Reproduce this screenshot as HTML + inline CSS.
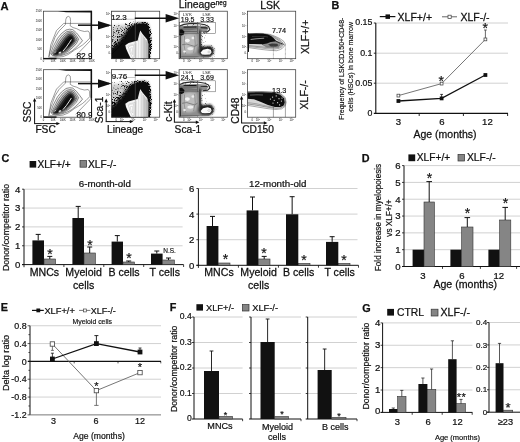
<!DOCTYPE html>
<html lang="en">
<head>
<meta charset="utf-8">
<title>XLF figure</title>
<style>
html,body{margin:0;padding:0;background:#fff;}
body{width:520px;height:442px;overflow:hidden;}
svg{display:block;font-family:"Liberation Sans",sans-serif;}
svg text{fill:#111;}
svg{-webkit-font-smoothing:antialiased;filter:grayscale(1) blur(0.3px);}
</style>
</head>
<body>
<svg width="520" height="442" viewBox="0 0 520 442">
<defs>
<filter id="b1" x="-20%" y="-20%" width="140%" height="140%"><feGaussianBlur stdDeviation="0.9"/></filter>
<filter id="b2" x="-20%" y="-20%" width="140%" height="140%"><feGaussianBlur stdDeviation="1.6"/></filter>
<filter id="b3" x="-30%" y="-30%" width="160%" height="160%"><feGaussianBlur stdDeviation="2.6"/></filter>
<filter id="b0" x="-20%" y="-20%" width="140%" height="140%"><feGaussianBlur stdDeviation="0.45"/></filter>
<filter id="spk" x="-10%" y="-10%" width="120%" height="120%" color-interpolation-filters="sRGB">
<feGaussianBlur in="SourceGraphic" stdDeviation="1.1" result="s"/>
<feTurbulence type="fractalNoise" baseFrequency="1.25" numOctaves="2" seed="7" result="n"/>
<feComposite in="s" in2="n" operator="arithmetic" k1="1" k2="0" k3="0" k4="0" result="m"/>
<feColorMatrix in="m" type="matrix" values="0 0 0 0 0.04  0 0 0 0 0.04  0 0 0 0 0.04  0 0 0 8 -2.5" result="t"/>
<feGaussianBlur in="t" stdDeviation="0.35"/>
</filter>
<linearGradient id="g2" gradientUnits="userSpaceOnUse" x1="111" y1="24" x2="128" y2="45">
<stop offset="0" stop-color="#000" stop-opacity="0.47"/><stop offset="0.5" stop-color="#000" stop-opacity="0.62"/><stop offset="1" stop-color="#000" stop-opacity="0.95"/>
</linearGradient>
</defs>
<rect width="520" height="442" fill="#fff"/>
<g id="panelA">
<text x="0.6" y="9.7" font-size="11.2" font-weight="bold" stroke="#111" stroke-width="0.25">A</text>
<text x="178.8" y="8.4" font-size="10.4" stroke="#111" stroke-width="0.25">Lineage<tspan font-size="6.4" dy="-3.6">neg</tspan></text>
<text x="270.2" y="8.9" font-size="10.5" text-anchor="middle" stroke="#111" stroke-width="0.252">LSK</text>
<text x="308.6" y="36.8" font-size="10.5" text-anchor="middle" transform="rotate(-90 308.6 36.8)" stroke="#111" stroke-width="0.252">XLF+/+</text>
<text x="308.2" y="94.8" font-size="10.5" text-anchor="middle" transform="rotate(-90 308.2 94.8)" stroke="#111" stroke-width="0.252">XLF-/-</text>
<g transform="translate(0 0)">
<text x="41.9" y="12.1" font-size="2.6" text-anchor="end" fill="#8a8a8a">250K</text>
<text x="41.9" y="21.599999999999998" font-size="2.6" text-anchor="end" fill="#8a8a8a">200K</text>
<text x="41.9" y="31.099999999999998" font-size="2.6" text-anchor="end" fill="#8a8a8a">150K</text>
<text x="41.9" y="40.6" font-size="2.6" text-anchor="end" fill="#8a8a8a">100K</text>
<text x="41.9" y="50.1" font-size="2.6" text-anchor="end" fill="#8a8a8a">50K</text>
<text x="41.9" y="59.6" font-size="2.6" text-anchor="end" fill="#8a8a8a">0</text>
<text x="43.5" y="62.1" font-size="2.6" text-anchor="middle" fill="#8a8a8a">0</text>
<text x="53.14" y="62.1" font-size="2.6" text-anchor="middle" fill="#8a8a8a">50K</text>
<text x="62.78" y="62.1" font-size="2.6" text-anchor="middle" fill="#8a8a8a">100K</text>
<text x="72.42" y="62.1" font-size="2.6" text-anchor="middle" fill="#8a8a8a">150K</text>
<text x="82.06" y="62.1" font-size="2.6" text-anchor="middle" fill="#8a8a8a">200K</text>
<text x="91.7" y="62.1" font-size="2.6" text-anchor="middle" fill="#8a8a8a">250K</text>
<path d="M49.3 56.4 L50.7 45 L56.5 30.6 L63.7 23.4 L91 23.4 M91 40 L75.7 55.8" fill="none" stroke="#3a3a3a" stroke-width="0.5"/>
<path d="M48.6 57.2 L49.6 52 L52.6 44 L55 37.4 L59 31 L63 27 L65.4 24.6 L65.8 19.4 L66.8 17 L68.6 16.4 L70.2 17.6 L70.6 21.6 L70.2 25.8 L73 27.6 L76.7 28.7 L80 30.4 L84.4 31.5 L88.2 31 L89.6 33 L89.8 38 L86 42 L82.5 45 L78.6 47.6 L74.8 49.8 L71 52.6 L68 54.6 L63 56.6 L56 57.4 Z" fill="none" stroke="#3a3a3a" stroke-width="0.5"/>
<g filter="url(#b0)">
<path d="M50.7 53.4 L53 47 L57.5 38.3 L61.4 33.6 L66 30 L69.6 29.2 L72.8 29.6 L76.6 33 L79.6 36.8 L82.5 40.7 L79.4 44.4 L75.7 47.9 L72 51 L68 53.2 L62 55.4 L55.5 56.4 L52 55.6 Z" fill="#f4f4f4" stroke="#333" stroke-width="0.55"/>
<path d="M51.6 54 L54.4 48 L58.6 40 L62.6 35 L66.6 31.8 L70.4 31 L73.6 32 L76.4 35.6 L78.6 39.2 L76.4 43.6 L72.6 47.6 L68.6 51 L63 54.2 L56 55.8 L52.6 55.2 Z" fill="#dcdcdc" stroke="#333" stroke-width="0.55"/>
<path d="M52.4 54.4 L55.6 48.6 L59.8 41.4 L63.6 36.4 L67.2 33.2 L70.6 32.4 L73.2 33.6 L75.4 36.6 L77 39.4 L75 43 L71.4 47 L67.6 50.4 L62.4 53.4 L56.4 55.2 L53.4 54.8 Z" fill="#b4b4b4" stroke="#2a2a2a" stroke-width="0.55"/>
<path d="M53.4 54.4 L56.8 49 L61 42.4 L64.6 37.6 L67.8 34.6 L70.6 33.8 L72.8 35 L74.4 37.6 L75.4 40 L73.6 43 L70.4 46.6 L66.6 50 L61.6 53 L56.8 54.6 L54.4 54.6 Z" fill="#6c6c6c" stroke="#222" stroke-width="0.55"/>
<path d="M54.6 54.2 L58 49.4 L62.4 43.2 L65.8 38.6 L68.4 36 L70.6 35.2 L72.4 36.2 L73.6 38.4 L74 40.4 L72.4 43 L69.4 46.4 L65.6 49.6 L61 52.6 L57 54.2 Z" fill="#2a2a2a" stroke="#111" stroke-width="0.5"/>
<path d="M55.8 54 L59.4 49.8 L63.6 44.2 L66.8 39.6 L69 37.2 L70.8 36.6 L72 37.6 L72.8 39.4 L72.8 41 L71.2 43.4 L68.4 46.4 L64.8 49.4 L60.6 52.2 L57.4 53.8 Z" fill="#0c0c0c"/>
</g>
<path d="M63.2 50.8 L66.4 47 L69.4 42.6 L71.2 39.8" stroke="#fff" stroke-width="0.9" fill="none" stroke-linecap="round" filter="url(#b0)"/>
<ellipse cx="59.9" cy="52.7" rx="1.4" ry="0.85" fill="#fff" transform="rotate(-30 59.9 52.7)" filter="url(#b0)"/>
<path d="M51.4 55.6 L53 54.2 M54.6 53 L56 51.4" stroke="#fff" stroke-width="0.6" fill="none" filter="url(#b0)"/>
<rect x="43.50" y="11.20" width="48.20" height="47.50" fill="none" stroke="#3a3a3a" stroke-width="0.75"/>
<path d="M58 11.2 L66 11 L92 10.8 L92 12.5 L66 12.2 Z" fill="#111"/>
<line x1="91.3" y1="11.2" x2="91.3" y2="40" stroke="#111" stroke-width="1.5"/>
<line x1="91.5" y1="40" x2="91.5" y2="58.7" stroke="#111" stroke-width="0.9"/>
<line x1="43.5" y1="58.6" x2="56.5" y2="58.6" stroke="#111" stroke-width="1.4"/>
<clipPath id="c1_0"><rect x="43.5" y="11.2" width="48.6" height="47.8"/></clipPath>
<text x="92.7" y="59.0" font-size="8.4" text-anchor="end" clip-path="url(#c1_0)" stroke="#111" stroke-width="0.202">82.9</text>
</g>
<g transform="translate(0 58.5)">
<text x="41.9" y="12.1" font-size="2.6" text-anchor="end" fill="#8a8a8a">250K</text>
<text x="41.9" y="21.599999999999998" font-size="2.6" text-anchor="end" fill="#8a8a8a">200K</text>
<text x="41.9" y="31.099999999999998" font-size="2.6" text-anchor="end" fill="#8a8a8a">150K</text>
<text x="41.9" y="40.6" font-size="2.6" text-anchor="end" fill="#8a8a8a">100K</text>
<text x="41.9" y="50.1" font-size="2.6" text-anchor="end" fill="#8a8a8a">50K</text>
<text x="41.9" y="59.6" font-size="2.6" text-anchor="end" fill="#8a8a8a">0</text>
<text x="43.5" y="62.1" font-size="2.6" text-anchor="middle" fill="#8a8a8a">0</text>
<text x="53.14" y="62.1" font-size="2.6" text-anchor="middle" fill="#8a8a8a">50K</text>
<text x="62.78" y="62.1" font-size="2.6" text-anchor="middle" fill="#8a8a8a">100K</text>
<text x="72.42" y="62.1" font-size="2.6" text-anchor="middle" fill="#8a8a8a">150K</text>
<text x="82.06" y="62.1" font-size="2.6" text-anchor="middle" fill="#8a8a8a">200K</text>
<text x="91.7" y="62.1" font-size="2.6" text-anchor="middle" fill="#8a8a8a">250K</text>
<path d="M49.3 56.4 L50.7 45 L56.5 30.6 L63.7 23.4 L91 23.4 M91 40 L75.7 55.8" fill="none" stroke="#3a3a3a" stroke-width="0.5"/>
<path d="M48.6 57.2 L49.6 52 L52.6 44 L55 37.4 L59 31 L63 27 L65.4 24.6 L65.8 19.4 L66.8 17 L68.6 16.4 L70.2 17.6 L70.6 21.6 L70.2 25.8 L73 27.6 L76.7 28.7 L80 30.4 L84.4 31.5 L88.2 31 L89.6 33 L89.8 38 L86 42 L82.5 45 L78.6 47.6 L74.8 49.8 L71 52.6 L68 54.6 L63 56.6 L56 57.4 Z" fill="none" stroke="#3a3a3a" stroke-width="0.5"/>
<g filter="url(#b0)">
<path d="M50.7 53.4 L53 47 L57.5 38.3 L61.4 33.6 L66 30 L69.6 29.2 L72.8 29.6 L76.6 33 L79.6 36.8 L82.5 40.7 L79.4 44.4 L75.7 47.9 L72 51 L68 53.2 L62 55.4 L55.5 56.4 L52 55.6 Z" fill="#f4f4f4" stroke="#333" stroke-width="0.55"/>
<path d="M51.6 54 L54.4 48 L58.6 40 L62.6 35 L66.6 31.8 L70.4 31 L73.6 32 L76.4 35.6 L78.6 39.2 L76.4 43.6 L72.6 47.6 L68.6 51 L63 54.2 L56 55.8 L52.6 55.2 Z" fill="#dcdcdc" stroke="#333" stroke-width="0.55"/>
<path d="M52.4 54.4 L55.6 48.6 L59.8 41.4 L63.6 36.4 L67.2 33.2 L70.6 32.4 L73.2 33.6 L75.4 36.6 L77 39.4 L75 43 L71.4 47 L67.6 50.4 L62.4 53.4 L56.4 55.2 L53.4 54.8 Z" fill="#b4b4b4" stroke="#2a2a2a" stroke-width="0.55"/>
<path d="M53.4 54.4 L56.8 49 L61 42.4 L64.6 37.6 L67.8 34.6 L70.6 33.8 L72.8 35 L74.4 37.6 L75.4 40 L73.6 43 L70.4 46.6 L66.6 50 L61.6 53 L56.8 54.6 L54.4 54.6 Z" fill="#6c6c6c" stroke="#222" stroke-width="0.55"/>
<path d="M54.6 54.2 L58 49.4 L62.4 43.2 L65.8 38.6 L68.4 36 L70.6 35.2 L72.4 36.2 L73.6 38.4 L74 40.4 L72.4 43 L69.4 46.4 L65.6 49.6 L61 52.6 L57 54.2 Z" fill="#2a2a2a" stroke="#111" stroke-width="0.5"/>
<path d="M55.8 54 L59.4 49.8 L63.6 44.2 L66.8 39.6 L69 37.2 L70.8 36.6 L72 37.6 L72.8 39.4 L72.8 41 L71.2 43.4 L68.4 46.4 L64.8 49.4 L60.6 52.2 L57.4 53.8 Z" fill="#0c0c0c"/>
</g>
<path d="M63.2 50.8 L66.4 47 L69.4 42.6 L71.2 39.8" stroke="#fff" stroke-width="0.9" fill="none" stroke-linecap="round" filter="url(#b0)"/>
<ellipse cx="59.9" cy="52.7" rx="1.4" ry="0.85" fill="#fff" transform="rotate(-30 59.9 52.7)" filter="url(#b0)"/>
<path d="M51.4 55.6 L53 54.2 M54.6 53 L56 51.4" stroke="#fff" stroke-width="0.6" fill="none" filter="url(#b0)"/>
<rect x="43.50" y="11.20" width="48.20" height="47.50" fill="none" stroke="#3a3a3a" stroke-width="0.75"/>
<path d="M58 11.2 L66 11 L92 10.8 L92 12.5 L66 12.2 Z" fill="#111"/>
<line x1="91.3" y1="11.2" x2="91.3" y2="40" stroke="#111" stroke-width="1.5"/>
<line x1="91.5" y1="40" x2="91.5" y2="58.7" stroke="#111" stroke-width="0.9"/>
<line x1="43.5" y1="58.6" x2="56.5" y2="58.6" stroke="#111" stroke-width="1.4"/>
<clipPath id="c1_58"><rect x="43.5" y="11.2" width="48.6" height="47.8"/></clipPath>
<text x="92.7" y="59.3" font-size="8.4" text-anchor="end" clip-path="url(#c1_58)" stroke="#111" stroke-width="0.202">80.9</text>
</g>
<g transform="translate(0 0)">
<text x="110.1" y="15.299999999999999" font-size="2.8" text-anchor="end" fill="#8a8a8a">10<tspan font-size="1.8" dy="-1">5</tspan></text>
<line x1="110.5" y1="14.399999999999999" x2="111.5" y2="14.399999999999999" stroke="#666" stroke-width="0.4"/>
<text x="110.1" y="26.599999999999998" font-size="2.8" text-anchor="end" fill="#8a8a8a">10<tspan font-size="1.8" dy="-1">4</tspan></text>
<line x1="110.5" y1="25.7" x2="111.5" y2="25.7" stroke="#666" stroke-width="0.4"/>
<text x="110.1" y="37.49999999999999" font-size="2.8" text-anchor="end" fill="#8a8a8a">10<tspan font-size="1.8" dy="-1">3</tspan></text>
<line x1="110.5" y1="36.599999999999994" x2="111.5" y2="36.599999999999994" stroke="#666" stroke-width="0.4"/>
<text x="110.1" y="48.300000000000004" font-size="2.8" text-anchor="end" fill="#8a8a8a">10<tspan font-size="1.8" dy="-1">2</tspan></text>
<line x1="110.5" y1="47.400000000000006" x2="111.5" y2="47.400000000000006" stroke="#666" stroke-width="0.4"/>
<text x="110.1" y="54.4" font-size="2.8" text-anchor="end" fill="#8a8a8a">0</text>
<line x1="110.5" y1="53.5" x2="111.5" y2="53.5" stroke="#666" stroke-width="0.4"/>
<text x="116.2" y="62.300000000000004" font-size="2.8" text-anchor="middle" fill="#8a8a8a">0</text>
<line x1="116.2" y1="58.7" x2="116.2" y2="59.6" stroke="#666" stroke-width="0.4"/>
<text x="121.7" y="62.300000000000004" font-size="2.8" text-anchor="middle" fill="#8a8a8a">10<tspan font-size="1.8" dy="-1">2</tspan></text>
<line x1="121.7" y1="58.7" x2="121.7" y2="59.6" stroke="#666" stroke-width="0.4"/>
<text x="133.2" y="62.300000000000004" font-size="2.8" text-anchor="middle" fill="#8a8a8a">10<tspan font-size="1.8" dy="-1">3</tspan></text>
<line x1="133.2" y1="58.7" x2="133.2" y2="59.6" stroke="#666" stroke-width="0.4"/>
<text x="144.8" y="62.300000000000004" font-size="2.8" text-anchor="middle" fill="#8a8a8a">10<tspan font-size="1.8" dy="-1">4</tspan></text>
<line x1="144.8" y1="58.7" x2="144.8" y2="59.6" stroke="#666" stroke-width="0.4"/>
<text x="155.6" y="62.300000000000004" font-size="2.8" text-anchor="middle" fill="#8a8a8a">10<tspan font-size="1.8" dy="-1">5</tspan></text>
<line x1="155.6" y1="58.7" x2="155.6" y2="59.6" stroke="#666" stroke-width="0.4"/>
<clipPath id="c2_0"><rect x="111.5" y="11.2" width="48.2" height="47.5"/></clipPath>
<g clip-path="url(#c2_0)">
<path d="M108 26 L122 25 L130 24 L130 32 L120 44 L108 50 Z" fill="#909090" opacity="0.45" filter="url(#b2)"/>
<g filter="url(#spk)">
<path d="M108 21.8 L124 21.4 L138 20.6 L149 21.4 L151.6 30 L152.4 44 L151 62 L108 62 Z" fill="url(#g2)"/>
</g>
<path d="M106 51 L114 46 L120 40 L125 33 L129 27.6 L133 24.8 L138.2 23.4 L144 23 L147.6 24.2 L148.8 28 L149.4 33 L150 44 L149.2 52 L148.4 62 L106 62 Z" fill="#0b0b0b" filter="url(#b2)"/>
<path d="M132 26.2 L138.2 24 L144 23.6 L147.4 24.8 L148.6 28 L149.2 33 L149.8 44 L149 52 L148.2 62 L112 62 L112 54 L123 43 Z" fill="#0b0b0b" filter="url(#b0)"/>
<path d="M125.3 45.2 L128.6 43 L133 41.8 L137.7 40.5 L139 35 L140.3 30.6 L142.2 33.4 L144.2 36 L147.2 39.4 L148.4 44 L148.2 59 L131 59 L128 53 L126 48.6 Z" fill="#f1f1f1" filter="url(#b0)"/>
<path d="M126.6 45.8 L129.4 44.2 L135.6 42.6 L138 41.6 L139.6 36 L140.4 33 L141.6 36 L141 44 L140.6 59 L131.8 59 L128.8 53 L127 48.6 Z" fill="#fcfcfc" filter="url(#b0)"/>
<path d="M128.4 47 L130.4 45.8 L133.6 45.2 L134 57 L132.4 57.6 L130 52.6 Z" fill="none" stroke="#9a9a9a" stroke-width="0.35"/>
<path d="M130 48.4 L132.4 47.6 L132.6 54.6 L131.4 53 Z" fill="none" stroke="#aaa" stroke-width="0.35"/>
<path d="M127.4 46.4 L129.8 45 L135 43.8 L135.2 58 M136.6 42.4 L136.8 58.6" fill="none" stroke="#a6a6a6" stroke-width="0.35"/>
<line x1="138.4" y1="39" x2="138.4" y2="58.6" stroke="#bcbcbc" stroke-width="0.5"/>
<line x1="140.2" y1="32.5" x2="140.2" y2="58.6" stroke="#c4c4c4" stroke-width="0.5"/>
<line x1="141.8" y1="34.5" x2="141.8" y2="58.6" stroke="#a8a8a8" stroke-width="0.5"/>
<line x1="143.3" y1="36.5" x2="143.3" y2="58.6" stroke="#989898" stroke-width="0.5"/>
<line x1="144.7" y1="38" x2="144.7" y2="58.6" stroke="#808080" stroke-width="0.5"/>
<line x1="146" y1="39.8" x2="146" y2="58.6" stroke="#666" stroke-width="0.5"/>
<line x1="147.2" y1="41.5" x2="147.2" y2="58.6" stroke="#3a3a3a" stroke-width="0.5"/>
</g>
<line x1="135.3" y1="11.2" x2="135.3" y2="58.7" stroke="#777" stroke-width="0.45"/>
<rect x="111.50" y="11.20" width="23.80" height="7.90" fill="none" stroke="#8a8a8a" stroke-width="0.45"/>
<rect x="111.50" y="11.20" width="48.20" height="47.50" fill="none" stroke="#3a3a3a" stroke-width="0.75"/>
<text x="111.2" y="19.8" font-size="8.0" clip-path="url(#c2_0)" stroke="#111" stroke-width="0.192">12.3</text>
</g>
<g transform="translate(0 58.5)">
<text x="110.1" y="15.299999999999999" font-size="2.8" text-anchor="end" fill="#8a8a8a">10<tspan font-size="1.8" dy="-1">5</tspan></text>
<line x1="110.5" y1="14.399999999999999" x2="111.5" y2="14.399999999999999" stroke="#666" stroke-width="0.4"/>
<text x="110.1" y="26.599999999999998" font-size="2.8" text-anchor="end" fill="#8a8a8a">10<tspan font-size="1.8" dy="-1">4</tspan></text>
<line x1="110.5" y1="25.7" x2="111.5" y2="25.7" stroke="#666" stroke-width="0.4"/>
<text x="110.1" y="37.49999999999999" font-size="2.8" text-anchor="end" fill="#8a8a8a">10<tspan font-size="1.8" dy="-1">3</tspan></text>
<line x1="110.5" y1="36.599999999999994" x2="111.5" y2="36.599999999999994" stroke="#666" stroke-width="0.4"/>
<text x="110.1" y="48.300000000000004" font-size="2.8" text-anchor="end" fill="#8a8a8a">10<tspan font-size="1.8" dy="-1">2</tspan></text>
<line x1="110.5" y1="47.400000000000006" x2="111.5" y2="47.400000000000006" stroke="#666" stroke-width="0.4"/>
<text x="110.1" y="54.4" font-size="2.8" text-anchor="end" fill="#8a8a8a">0</text>
<line x1="110.5" y1="53.5" x2="111.5" y2="53.5" stroke="#666" stroke-width="0.4"/>
<text x="116.2" y="62.300000000000004" font-size="2.8" text-anchor="middle" fill="#8a8a8a">0</text>
<line x1="116.2" y1="58.7" x2="116.2" y2="59.6" stroke="#666" stroke-width="0.4"/>
<text x="121.7" y="62.300000000000004" font-size="2.8" text-anchor="middle" fill="#8a8a8a">10<tspan font-size="1.8" dy="-1">2</tspan></text>
<line x1="121.7" y1="58.7" x2="121.7" y2="59.6" stroke="#666" stroke-width="0.4"/>
<text x="133.2" y="62.300000000000004" font-size="2.8" text-anchor="middle" fill="#8a8a8a">10<tspan font-size="1.8" dy="-1">3</tspan></text>
<line x1="133.2" y1="58.7" x2="133.2" y2="59.6" stroke="#666" stroke-width="0.4"/>
<text x="144.8" y="62.300000000000004" font-size="2.8" text-anchor="middle" fill="#8a8a8a">10<tspan font-size="1.8" dy="-1">4</tspan></text>
<line x1="144.8" y1="58.7" x2="144.8" y2="59.6" stroke="#666" stroke-width="0.4"/>
<text x="155.6" y="62.300000000000004" font-size="2.8" text-anchor="middle" fill="#8a8a8a">10<tspan font-size="1.8" dy="-1">5</tspan></text>
<line x1="155.6" y1="58.7" x2="155.6" y2="59.6" stroke="#666" stroke-width="0.4"/>
<clipPath id="c2_58"><rect x="111.5" y="11.2" width="48.2" height="47.5"/></clipPath>
<g clip-path="url(#c2_58)">
<path d="M108 26 L122 25 L130 24 L130 32 L120 44 L108 50 Z" fill="#909090" opacity="0.45" filter="url(#b2)"/>
<g filter="url(#spk)">
<path d="M108 21.8 L124 21.4 L138 20.6 L149 21.4 L151.6 30 L152.4 44 L151 62 L108 62 Z" fill="url(#g2)"/>
</g>
<path d="M106 51 L114 46 L120 40 L125 33 L129 27.6 L133 24.8 L138.2 23.4 L144 23 L147.6 24.2 L148.8 28 L149.4 33 L150 44 L149.2 52 L148.4 62 L106 62 Z" fill="#0b0b0b" filter="url(#b2)"/>
<path d="M132 26.2 L138.2 24 L144 23.6 L147.4 24.8 L148.6 28 L149.2 33 L149.8 44 L149 52 L148.2 62 L112 62 L112 54 L123 43 Z" fill="#0b0b0b" filter="url(#b0)"/>
<path d="M125.3 45.2 L128.6 43 L133 41.8 L137.7 40.5 L139 35 L140.3 30.6 L142.2 33.4 L144.2 36 L147.2 39.4 L148.4 44 L148.2 59 L131 59 L128 53 L126 48.6 Z" fill="#f1f1f1" filter="url(#b0)"/>
<path d="M126.6 45.8 L129.4 44.2 L135.6 42.6 L138 41.6 L139.6 36 L140.4 33 L141.6 36 L141 44 L140.6 59 L131.8 59 L128.8 53 L127 48.6 Z" fill="#fcfcfc" filter="url(#b0)"/>
<path d="M128.4 47 L130.4 45.8 L133.6 45.2 L134 57 L132.4 57.6 L130 52.6 Z" fill="none" stroke="#9a9a9a" stroke-width="0.35"/>
<path d="M130 48.4 L132.4 47.6 L132.6 54.6 L131.4 53 Z" fill="none" stroke="#aaa" stroke-width="0.35"/>
<path d="M127.4 46.4 L129.8 45 L135 43.8 L135.2 58 M136.6 42.4 L136.8 58.6" fill="none" stroke="#a6a6a6" stroke-width="0.35"/>
<line x1="138.4" y1="39" x2="138.4" y2="58.6" stroke="#bcbcbc" stroke-width="0.5"/>
<line x1="140.2" y1="32.5" x2="140.2" y2="58.6" stroke="#c4c4c4" stroke-width="0.5"/>
<line x1="141.8" y1="34.5" x2="141.8" y2="58.6" stroke="#a8a8a8" stroke-width="0.5"/>
<line x1="143.3" y1="36.5" x2="143.3" y2="58.6" stroke="#989898" stroke-width="0.5"/>
<line x1="144.7" y1="38" x2="144.7" y2="58.6" stroke="#808080" stroke-width="0.5"/>
<line x1="146" y1="39.8" x2="146" y2="58.6" stroke="#666" stroke-width="0.5"/>
<line x1="147.2" y1="41.5" x2="147.2" y2="58.6" stroke="#3a3a3a" stroke-width="0.5"/>
</g>
<line x1="135.3" y1="11.2" x2="135.3" y2="58.7" stroke="#777" stroke-width="0.45"/>
<rect x="111.50" y="11.20" width="23.80" height="7.90" fill="none" stroke="#8a8a8a" stroke-width="0.45"/>
<rect x="111.50" y="11.20" width="48.20" height="47.50" fill="none" stroke="#3a3a3a" stroke-width="0.75"/>
<text x="111.7" y="20.0" font-size="8.0" clip-path="url(#c2_58)" stroke="#111" stroke-width="0.192">9.76</text>
</g>
<g transform="translate(0 0)">
<text x="177.7" y="15.299999999999999" font-size="2.8" text-anchor="end" fill="#8a8a8a">10<tspan font-size="1.8" dy="-1">5</tspan></text>
<line x1="178.1" y1="14.399999999999999" x2="179.1" y2="14.399999999999999" stroke="#666" stroke-width="0.4"/>
<text x="177.7" y="26.599999999999998" font-size="2.8" text-anchor="end" fill="#8a8a8a">10<tspan font-size="1.8" dy="-1">4</tspan></text>
<line x1="178.1" y1="25.7" x2="179.1" y2="25.7" stroke="#666" stroke-width="0.4"/>
<text x="177.7" y="37.49999999999999" font-size="2.8" text-anchor="end" fill="#8a8a8a">10<tspan font-size="1.8" dy="-1">3</tspan></text>
<line x1="178.1" y1="36.599999999999994" x2="179.1" y2="36.599999999999994" stroke="#666" stroke-width="0.4"/>
<text x="177.7" y="48.300000000000004" font-size="2.8" text-anchor="end" fill="#8a8a8a">10<tspan font-size="1.8" dy="-1">2</tspan></text>
<line x1="178.1" y1="47.400000000000006" x2="179.1" y2="47.400000000000006" stroke="#666" stroke-width="0.4"/>
<text x="177.7" y="54.4" font-size="2.8" text-anchor="end" fill="#8a8a8a">0</text>
<line x1="178.1" y1="53.5" x2="179.1" y2="53.5" stroke="#666" stroke-width="0.4"/>
<text x="183.79999999999998" y="62.300000000000004" font-size="2.8" text-anchor="middle" fill="#8a8a8a">0</text>
<line x1="183.79999999999998" y1="58.7" x2="183.79999999999998" y2="59.6" stroke="#666" stroke-width="0.4"/>
<text x="189.29999999999998" y="62.300000000000004" font-size="2.8" text-anchor="middle" fill="#8a8a8a">10<tspan font-size="1.8" dy="-1">2</tspan></text>
<line x1="189.29999999999998" y1="58.7" x2="189.29999999999998" y2="59.6" stroke="#666" stroke-width="0.4"/>
<text x="200.79999999999998" y="62.300000000000004" font-size="2.8" text-anchor="middle" fill="#8a8a8a">10<tspan font-size="1.8" dy="-1">3</tspan></text>
<line x1="200.79999999999998" y1="58.7" x2="200.79999999999998" y2="59.6" stroke="#666" stroke-width="0.4"/>
<text x="212.39999999999998" y="62.300000000000004" font-size="2.8" text-anchor="middle" fill="#8a8a8a">10<tspan font-size="1.8" dy="-1">4</tspan></text>
<line x1="212.39999999999998" y1="58.7" x2="212.39999999999998" y2="59.6" stroke="#666" stroke-width="0.4"/>
<text x="223.2" y="62.300000000000004" font-size="2.8" text-anchor="middle" fill="#8a8a8a">10<tspan font-size="1.8" dy="-1">5</tspan></text>
<line x1="223.2" y1="58.7" x2="223.2" y2="59.6" stroke="#666" stroke-width="0.4"/>
<clipPath id="c3_0"><rect x="179.1" y="11.2" width="48.2" height="47.5"/></clipPath>
<g clip-path="url(#c3_0)">
<g filter="url(#spk)">
<path d="M177 21.6 L196 21 L209 22.6 L212.6 27 L211.6 33 L207 36 L207 43 L213 43.6 L217.6 48 L218 54 L214.6 60 L177 60 Z" fill="#000" fill-opacity="0.52"/>
</g>
<path d="M179 26 L196 25.4 L206 26 L208.4 28.6 L206.4 31.6 L201 32.6 L201 45 L203 47.4 L210 46.6 L213.4 50 L212.6 54.6 L209 57.4 L179 58.6 Z" fill="#8e8e8e" filter="url(#b0)"/>
<path d="M182.4 35.4 L189 33.6 L196.4 34.6 L197 44 L195.6 52 L190 54 L183 53.6 L181.6 46 Z" fill="#bdbdbd" filter="url(#b1)"/>
<ellipse cx="187.4" cy="40.6" rx="2.5" ry="1.8" fill="#f4f4f4" filter="url(#b0)"/>
<ellipse cx="193" cy="38" rx="1.5" ry="1.2" fill="#ececec" filter="url(#b0)"/>
<ellipse cx="190.4" cy="48.6" rx="3" ry="1.7" fill="#ededed" filter="url(#b0)"/>
<path d="M182 44.8 Q187 43 191 45.4 T197.6 44.6" stroke="#6a6a6a" stroke-width="0.7" fill="none" filter="url(#b0)"/>
<path d="M184.6 36 Q183 45 185.6 54 M194.6 35.6 Q196.4 44 193.6 52.6" stroke="#777" stroke-width="0.6" fill="none" filter="url(#b0)"/>
<ellipse cx="184.6" cy="51.6" rx="1.4" ry="1" fill="#ededed" filter="url(#b0)"/>
<path d="M179.6 26 L184 24.4 L191.7 23.4 L199 23.8 L205 24.8 L208.6 26.6 L209.8 29.6 L207.6 31.6 L203 32.2" stroke="#2a2a2a" stroke-width="1.15" fill="none" filter="url(#b0)"/>
<path d="M180 27.4 L196 26.8 L198 29 L190 30.2 L180 30.6 Z" fill="#707070" filter="url(#b0)"/>
<path d="M183.6 27.2 L196.6 26.9" stroke="#101010" stroke-width="1.0" filter="url(#b0)"/>
<path d="M200.6 27.6 L207.6 28" stroke="#2c2c2c" stroke-width="1.3" filter="url(#b0)"/>
<path d="M180 31.6 L197 31.4" stroke="#555" stroke-width="0.8" filter="url(#b0)"/>
<path d="M179 29.4 L182 29.2 L184.4 31.6 L184 34.2 L181.6 35.4 L179 35.2 Z" fill="#0c0c0c" filter="url(#b0)"/>
<path d="M199.5 30 L199.6 34 L199.8 40 L200 46 L201.6 48.6" stroke="#161616" stroke-width="2.2" fill="none" filter="url(#b1)"/>
<path d="M199.4 47.6 L203 46.4 L210.9 46 L213.9 49.6 L213.2 54 L210.4 56.2 L202.4 56.2 L198.6 53 Z" fill="#1c1c1c" filter="url(#b1)"/>
<path d="M200.6 52.6 L203 49.8 L207.6 48.8 L210.8 49.8 L211.6 52.2 L210 54.4 L205 54.8 L202 54.4 Z" fill="#fafafa" filter="url(#b0)"/>
<ellipse cx="209" cy="52" rx="1.3" ry="0.9" fill="none" stroke="#999" stroke-width="0.4"/>
<path d="M180.4 56.6 L199 56.8" stroke="#4a4a4a" stroke-width="1.5" filter="url(#b1)"/>
<path d="M180.2 35 L180.4 58" stroke="#2a2a2a" stroke-width="1.1" filter="url(#b0)"/>
</g>
<rect x="179.60" y="22.30" width="18.20" height="11.00" fill="none" stroke="#555" stroke-width="0.5"/>
<rect x="197.80" y="22.30" width="17.70" height="11.00" fill="none" stroke="#555" stroke-width="0.5"/>
<rect x="179.10" y="11.20" width="48.20" height="47.50" fill="none" stroke="#3a3a3a" stroke-width="0.75"/>
<text x="187.4" y="15.7" font-size="4.4" text-anchor="middle" fill="#2a2a2a">LS<tspan font-size="2.8" dy="-1.3">-</tspan><tspan dy="1.3">K</tspan></text>
<text x="206.6" y="15.7" font-size="4.4" text-anchor="middle" fill="#2a2a2a">LSK</text>
<text x="187.6" y="21.8" font-size="7" text-anchor="middle" stroke="#111" stroke-width="0.168">19.5</text>
<text x="207" y="21.8" font-size="7" text-anchor="middle" stroke="#111" stroke-width="0.168">3.33</text>
</g>
<g transform="translate(0 58.5)">
<text x="177.7" y="15.299999999999999" font-size="2.8" text-anchor="end" fill="#8a8a8a">10<tspan font-size="1.8" dy="-1">5</tspan></text>
<line x1="178.1" y1="14.399999999999999" x2="179.1" y2="14.399999999999999" stroke="#666" stroke-width="0.4"/>
<text x="177.7" y="26.599999999999998" font-size="2.8" text-anchor="end" fill="#8a8a8a">10<tspan font-size="1.8" dy="-1">4</tspan></text>
<line x1="178.1" y1="25.7" x2="179.1" y2="25.7" stroke="#666" stroke-width="0.4"/>
<text x="177.7" y="37.49999999999999" font-size="2.8" text-anchor="end" fill="#8a8a8a">10<tspan font-size="1.8" dy="-1">3</tspan></text>
<line x1="178.1" y1="36.599999999999994" x2="179.1" y2="36.599999999999994" stroke="#666" stroke-width="0.4"/>
<text x="177.7" y="48.300000000000004" font-size="2.8" text-anchor="end" fill="#8a8a8a">10<tspan font-size="1.8" dy="-1">2</tspan></text>
<line x1="178.1" y1="47.400000000000006" x2="179.1" y2="47.400000000000006" stroke="#666" stroke-width="0.4"/>
<text x="177.7" y="54.4" font-size="2.8" text-anchor="end" fill="#8a8a8a">0</text>
<line x1="178.1" y1="53.5" x2="179.1" y2="53.5" stroke="#666" stroke-width="0.4"/>
<text x="183.79999999999998" y="62.300000000000004" font-size="2.8" text-anchor="middle" fill="#8a8a8a">0</text>
<line x1="183.79999999999998" y1="58.7" x2="183.79999999999998" y2="59.6" stroke="#666" stroke-width="0.4"/>
<text x="189.29999999999998" y="62.300000000000004" font-size="2.8" text-anchor="middle" fill="#8a8a8a">10<tspan font-size="1.8" dy="-1">2</tspan></text>
<line x1="189.29999999999998" y1="58.7" x2="189.29999999999998" y2="59.6" stroke="#666" stroke-width="0.4"/>
<text x="200.79999999999998" y="62.300000000000004" font-size="2.8" text-anchor="middle" fill="#8a8a8a">10<tspan font-size="1.8" dy="-1">3</tspan></text>
<line x1="200.79999999999998" y1="58.7" x2="200.79999999999998" y2="59.6" stroke="#666" stroke-width="0.4"/>
<text x="212.39999999999998" y="62.300000000000004" font-size="2.8" text-anchor="middle" fill="#8a8a8a">10<tspan font-size="1.8" dy="-1">4</tspan></text>
<line x1="212.39999999999998" y1="58.7" x2="212.39999999999998" y2="59.6" stroke="#666" stroke-width="0.4"/>
<text x="223.2" y="62.300000000000004" font-size="2.8" text-anchor="middle" fill="#8a8a8a">10<tspan font-size="1.8" dy="-1">5</tspan></text>
<line x1="223.2" y1="58.7" x2="223.2" y2="59.6" stroke="#666" stroke-width="0.4"/>
<clipPath id="c3_58"><rect x="179.1" y="11.2" width="48.2" height="47.5"/></clipPath>
<g clip-path="url(#c3_58)">
<g filter="url(#spk)">
<path d="M177 21.6 L196 21 L209 22.6 L212.6 27 L211.6 33 L207 36 L207 43 L213 43.6 L217.6 48 L218 54 L214.6 60 L177 60 Z" fill="#000" fill-opacity="0.52"/>
</g>
<path d="M179 26 L196 25.4 L206 26 L208.4 28.6 L206.4 31.6 L201 32.6 L201 45 L203 47.4 L210 46.6 L213.4 50 L212.6 54.6 L209 57.4 L179 58.6 Z" fill="#8e8e8e" filter="url(#b0)"/>
<path d="M182.4 35.4 L189 33.6 L196.4 34.6 L197 44 L195.6 52 L190 54 L183 53.6 L181.6 46 Z" fill="#bdbdbd" filter="url(#b1)"/>
<ellipse cx="187.4" cy="40.6" rx="2.5" ry="1.8" fill="#f4f4f4" filter="url(#b0)"/>
<ellipse cx="193" cy="38" rx="1.5" ry="1.2" fill="#ececec" filter="url(#b0)"/>
<ellipse cx="190.4" cy="48.6" rx="3" ry="1.7" fill="#ededed" filter="url(#b0)"/>
<path d="M182 44.8 Q187 43 191 45.4 T197.6 44.6" stroke="#6a6a6a" stroke-width="0.7" fill="none" filter="url(#b0)"/>
<path d="M184.6 36 Q183 45 185.6 54 M194.6 35.6 Q196.4 44 193.6 52.6" stroke="#777" stroke-width="0.6" fill="none" filter="url(#b0)"/>
<ellipse cx="184.6" cy="51.6" rx="1.4" ry="1" fill="#ededed" filter="url(#b0)"/>
<path d="M179.6 26 L184 24.4 L191.7 23.4 L199 23.8 L205 24.8 L208.6 26.6 L209.8 29.6 L207.6 31.6 L203 32.2" stroke="#2a2a2a" stroke-width="1.15" fill="none" filter="url(#b0)"/>
<path d="M180 27.4 L196 26.8 L198 29 L190 30.2 L180 30.6 Z" fill="#707070" filter="url(#b0)"/>
<path d="M183.6 27.2 L196.6 26.9" stroke="#101010" stroke-width="1.0" filter="url(#b0)"/>
<path d="M200.6 27.6 L207.6 28" stroke="#2c2c2c" stroke-width="1.3" filter="url(#b0)"/>
<path d="M180 31.6 L197 31.4" stroke="#555" stroke-width="0.8" filter="url(#b0)"/>
<path d="M179 29.4 L182 29.2 L184.4 31.6 L184 34.2 L181.6 35.4 L179 35.2 Z" fill="#0c0c0c" filter="url(#b0)"/>
<path d="M199.5 30 L199.6 34 L199.8 40 L200 46 L201.6 48.6" stroke="#161616" stroke-width="2.2" fill="none" filter="url(#b1)"/>
<path d="M199.4 47.6 L203 46.4 L210.9 46 L213.9 49.6 L213.2 54 L210.4 56.2 L202.4 56.2 L198.6 53 Z" fill="#1c1c1c" filter="url(#b1)"/>
<path d="M200.6 52.6 L203 49.8 L207.6 48.8 L210.8 49.8 L211.6 52.2 L210 54.4 L205 54.8 L202 54.4 Z" fill="#fafafa" filter="url(#b0)"/>
<ellipse cx="209" cy="52" rx="1.3" ry="0.9" fill="none" stroke="#999" stroke-width="0.4"/>
<path d="M180.4 56.6 L199 56.8" stroke="#4a4a4a" stroke-width="1.5" filter="url(#b1)"/>
<path d="M180.2 35 L180.4 58" stroke="#2a2a2a" stroke-width="1.1" filter="url(#b0)"/>
</g>
<rect x="179.60" y="22.30" width="18.20" height="11.00" fill="none" stroke="#555" stroke-width="0.5"/>
<rect x="197.80" y="22.30" width="17.70" height="11.00" fill="none" stroke="#555" stroke-width="0.5"/>
<rect x="179.10" y="11.20" width="48.20" height="47.50" fill="none" stroke="#3a3a3a" stroke-width="0.75"/>
<text x="187.4" y="15.7" font-size="4.4" text-anchor="middle" fill="#2a2a2a">LS<tspan font-size="2.8" dy="-1.3">-</tspan><tspan dy="1.3">K</tspan></text>
<text x="206.6" y="15.7" font-size="4.4" text-anchor="middle" fill="#2a2a2a">LSK</text>
<text x="187.6" y="21.8" font-size="7" text-anchor="middle" stroke="#111" stroke-width="0.168">24.1</text>
<text x="207" y="21.8" font-size="7" text-anchor="middle" stroke="#111" stroke-width="0.168">3.69</text>
</g>
<g transform="translate(0 0)">
<text x="246.1" y="15.299999999999999" font-size="2.8" text-anchor="end" fill="#8a8a8a">10<tspan font-size="1.8" dy="-1">5</tspan></text>
<line x1="246.5" y1="14.399999999999999" x2="247.5" y2="14.399999999999999" stroke="#666" stroke-width="0.4"/>
<text x="246.1" y="26.599999999999998" font-size="2.8" text-anchor="end" fill="#8a8a8a">10<tspan font-size="1.8" dy="-1">4</tspan></text>
<line x1="246.5" y1="25.7" x2="247.5" y2="25.7" stroke="#666" stroke-width="0.4"/>
<text x="246.1" y="37.49999999999999" font-size="2.8" text-anchor="end" fill="#8a8a8a">10<tspan font-size="1.8" dy="-1">3</tspan></text>
<line x1="246.5" y1="36.599999999999994" x2="247.5" y2="36.599999999999994" stroke="#666" stroke-width="0.4"/>
<text x="246.1" y="48.300000000000004" font-size="2.8" text-anchor="end" fill="#8a8a8a">10<tspan font-size="1.8" dy="-1">2</tspan></text>
<line x1="246.5" y1="47.400000000000006" x2="247.5" y2="47.400000000000006" stroke="#666" stroke-width="0.4"/>
<text x="246.1" y="54.4" font-size="2.8" text-anchor="end" fill="#8a8a8a">0</text>
<line x1="246.5" y1="53.5" x2="247.5" y2="53.5" stroke="#666" stroke-width="0.4"/>
<text x="252.2" y="62.300000000000004" font-size="2.8" text-anchor="middle" fill="#8a8a8a">0</text>
<line x1="252.2" y1="58.7" x2="252.2" y2="59.6" stroke="#666" stroke-width="0.4"/>
<text x="257.7" y="62.300000000000004" font-size="2.8" text-anchor="middle" fill="#8a8a8a">10<tspan font-size="1.8" dy="-1">2</tspan></text>
<line x1="257.7" y1="58.7" x2="257.7" y2="59.6" stroke="#666" stroke-width="0.4"/>
<text x="269.2" y="62.300000000000004" font-size="2.8" text-anchor="middle" fill="#8a8a8a">10<tspan font-size="1.8" dy="-1">3</tspan></text>
<line x1="269.2" y1="58.7" x2="269.2" y2="59.6" stroke="#666" stroke-width="0.4"/>
<text x="280.8" y="62.300000000000004" font-size="2.8" text-anchor="middle" fill="#8a8a8a">10<tspan font-size="1.8" dy="-1">4</tspan></text>
<line x1="280.8" y1="58.7" x2="280.8" y2="59.6" stroke="#666" stroke-width="0.4"/>
<text x="291.6" y="62.300000000000004" font-size="2.8" text-anchor="middle" fill="#8a8a8a">10<tspan font-size="1.8" dy="-1">5</tspan></text>
<line x1="291.6" y1="58.7" x2="291.6" y2="59.6" stroke="#666" stroke-width="0.4"/>
<clipPath id="c4_0"><rect x="247.5" y="11.2" width="48.2" height="47.5"/></clipPath>
<g clip-path="url(#c4_0)">
<g filter="url(#b0)">
<path d="M247 33.6 L262 33.4 L270 34.4 L274.4 36 L278 37.6 L281.2 39.4 L284 41.6 L285.1 43.9 L284 46.4 L282.3 48.4 L279.6 49.8 L276.6 50.7 L270 50.4 L262 49.5 L254 48.4 L247 47.4 Z" fill="#fbfbfb" stroke="#444" stroke-width="0.45"/>
<path d="M247 34 L262 33.8 L270 35 L275 37 L279 39.2 L282.4 42 L283.4 44.2 L282 46.8 L279 48.4 L274 49.2 L266 48.6 L256 47.4 L247 46.4 Z" fill="#ededed" stroke="#444" stroke-width="0.45"/>
<path d="M247 34.2 L262 34 L270 35.6 L275 38 L279.4 40.6 L281.6 43 L281.4 45.4 L279 47.4 L274 48 L266 47.4 L256 46.4 L247 45.4 Z" fill="#d2d2d2" stroke="#3a3a3a" stroke-width="0.45"/>
<path d="M262 44.4 L268 41.6 L274 41 L279 42.4 L280.4 44.4 L278.6 46.6 L273 47.2 L266 46.6 Z" fill="#8a8a8a" stroke="#333" stroke-width="0.4"/>
<path d="M268 44.6 L272 43.4 L277 43.8 L278.6 45.2 L276 46.4 L271 46.4 Z" fill="#3a3a3a"/>
<path d="M247 34.1 L256 33.6 L263 33.8 L268 34.6 L271.4 36.2 L274 38.6 L276.4 41.2 L274 41.6 L270.6 42 L267 43.4 L262 44.2 L254 44.1 L247 43.9 Z" fill="#0a0a0a"/>
</g>
<path d="M250.6 39.5 L256 38.8 L260 38.5 L264.2 38.2" stroke="#b5b5b5" stroke-width="0.8" fill="none" filter="url(#b0)"/>
<path d="M276 41.2 L280 43 L283.6 44.4" stroke="#222" stroke-width="0.9" fill="none" filter="url(#b0)"/>
<path d="M252 36.4 L262 36.2 L268 37" stroke="#555" stroke-width="0.5" fill="none" filter="url(#b0)"/>
<path d="M248.2 33.6 L248.2 47 L248.8 51.8" stroke="#0c0c0c" stroke-width="1.7" fill="none" filter="url(#b0)"/>
</g>
<line x1="273.4" y1="45" x2="273.4" y2="58.7" stroke="#4a4a4a" stroke-width="0.5" stroke-dasharray="0.8 0.5"/>
<line x1="285.4" y1="43.9" x2="285.4" y2="58.7" stroke="#4a4a4a" stroke-width="0.5" stroke-dasharray="0.8 0.5"/>
<rect x="247.50" y="11.20" width="48.20" height="47.50" fill="none" stroke="#3a3a3a" stroke-width="0.75"/>
<text x="279.0" y="33.2" font-size="7.3" text-anchor="middle" stroke="#111" stroke-width="0.175">7.74</text>
</g>
<g transform="translate(0 58.5)">
<text x="246.1" y="15.299999999999999" font-size="2.8" text-anchor="end" fill="#8a8a8a">10<tspan font-size="1.8" dy="-1">5</tspan></text>
<line x1="246.5" y1="14.399999999999999" x2="247.5" y2="14.399999999999999" stroke="#666" stroke-width="0.4"/>
<text x="246.1" y="26.599999999999998" font-size="2.8" text-anchor="end" fill="#8a8a8a">10<tspan font-size="1.8" dy="-1">4</tspan></text>
<line x1="246.5" y1="25.7" x2="247.5" y2="25.7" stroke="#666" stroke-width="0.4"/>
<text x="246.1" y="37.49999999999999" font-size="2.8" text-anchor="end" fill="#8a8a8a">10<tspan font-size="1.8" dy="-1">3</tspan></text>
<line x1="246.5" y1="36.599999999999994" x2="247.5" y2="36.599999999999994" stroke="#666" stroke-width="0.4"/>
<text x="246.1" y="48.300000000000004" font-size="2.8" text-anchor="end" fill="#8a8a8a">10<tspan font-size="1.8" dy="-1">2</tspan></text>
<line x1="246.5" y1="47.400000000000006" x2="247.5" y2="47.400000000000006" stroke="#666" stroke-width="0.4"/>
<text x="246.1" y="54.4" font-size="2.8" text-anchor="end" fill="#8a8a8a">0</text>
<line x1="246.5" y1="53.5" x2="247.5" y2="53.5" stroke="#666" stroke-width="0.4"/>
<text x="252.2" y="62.300000000000004" font-size="2.8" text-anchor="middle" fill="#8a8a8a">0</text>
<line x1="252.2" y1="58.7" x2="252.2" y2="59.6" stroke="#666" stroke-width="0.4"/>
<text x="257.7" y="62.300000000000004" font-size="2.8" text-anchor="middle" fill="#8a8a8a">10<tspan font-size="1.8" dy="-1">2</tspan></text>
<line x1="257.7" y1="58.7" x2="257.7" y2="59.6" stroke="#666" stroke-width="0.4"/>
<text x="269.2" y="62.300000000000004" font-size="2.8" text-anchor="middle" fill="#8a8a8a">10<tspan font-size="1.8" dy="-1">3</tspan></text>
<line x1="269.2" y1="58.7" x2="269.2" y2="59.6" stroke="#666" stroke-width="0.4"/>
<text x="280.8" y="62.300000000000004" font-size="2.8" text-anchor="middle" fill="#8a8a8a">10<tspan font-size="1.8" dy="-1">4</tspan></text>
<line x1="280.8" y1="58.7" x2="280.8" y2="59.6" stroke="#666" stroke-width="0.4"/>
<text x="291.6" y="62.300000000000004" font-size="2.8" text-anchor="middle" fill="#8a8a8a">10<tspan font-size="1.8" dy="-1">5</tspan></text>
<line x1="291.6" y1="58.7" x2="291.6" y2="59.6" stroke="#666" stroke-width="0.4"/>
<clipPath id="c4_58"><rect x="247.5" y="11.2" width="48.2" height="47.5"/></clipPath>
<g clip-path="url(#c4_58)">
<g filter="url(#b0)">
<path d="M247 33.2 L262 33 L274 33.6 L281 35.4 L285.2 39 L286.2 44 L285 48 L281.6 50.4 L276 51 L268 50.2 L258 48.6 L247 46.8 Z" fill="#f6f6f6" stroke="#444" stroke-width="0.45"/>
<path d="M247 33.6 L262 33.4 L274 34 L280.6 35.8 L284.6 39.4 L285.4 44 L284.2 47.4 L281 49.4 L276 49.8 L268 48.8 L258 47 L247 45.4 Z" fill="#d6d6d6" stroke="#3a3a3a" stroke-width="0.45"/>
<path d="M247 44 L256 45.2 L266 47.4 L274 48.8" stroke="#555" stroke-width="0.4" fill="none"/>
<path d="M247 33.9 L262 33.7 L274 34.3 L280.2 36.2 L284 39.8 L284.8 44 L283.6 47 L280.6 48.6 L275 48.6 L268 46.6 L261 43.4 L254 40.8 L247 40.2 Z" fill="#0a0a0a"/>
</g>
<path d="M250 36.6 L257 36.3 L263 36.5" stroke="#9a9a9a" stroke-width="0.6" fill="none" filter="url(#b0)"/>
<circle cx="272.6" cy="38.6" r="0.6" fill="#e6e6e6" filter="url(#b0)"/>
<circle cx="276.2" cy="37.4" r="0.6" fill="#e6e6e6" filter="url(#b0)"/>
<circle cx="279" cy="40.2" r="0.6" fill="#e6e6e6" filter="url(#b0)"/>
<circle cx="274.2" cy="41.8" r="0.6" fill="#e6e6e6" filter="url(#b0)"/>
<circle cx="277.6" cy="44.2" r="0.6" fill="#e6e6e6" filter="url(#b0)"/>
<circle cx="281.4" cy="42.6" r="0.6" fill="#e6e6e6" filter="url(#b0)"/>
<circle cx="270.4" cy="40.6" r="0.6" fill="#e6e6e6" filter="url(#b0)"/>
<circle cx="279.6" cy="46.4" r="0.6" fill="#e6e6e6" filter="url(#b0)"/>
<circle cx="273" cy="44.6" r="0.6" fill="#e6e6e6" filter="url(#b0)"/>
<circle cx="282" cy="39.6" r="0.6" fill="#e6e6e6" filter="url(#b0)"/>
<path d="M248.2 33.2 L248.2 47" stroke="#0c0c0c" stroke-width="1.7" fill="none" filter="url(#b0)"/>
</g>
<line x1="273.4" y1="47.6" x2="273.4" y2="58.7" stroke="#4a4a4a" stroke-width="0.5"/>
<line x1="285.4" y1="42" x2="285.4" y2="58.7" stroke="#4a4a4a" stroke-width="0.5"/>
<rect x="247.50" y="11.20" width="48.20" height="47.50" fill="none" stroke="#3a3a3a" stroke-width="0.75"/>
<text x="279.2" y="34.9" font-size="7.3" text-anchor="middle" stroke="#111" stroke-width="0.175">13.3</text>
</g>
<line x1="78" y1="25.2" x2="99.0" y2="25.2" stroke="#111" stroke-width="1.5"/>
<path d="M111.6 25.2 L98.0 20.9 L98.0 29.5 Z" fill="#111"/>
<line x1="134.8" y1="18.3" x2="166.6" y2="18.3" stroke="#111" stroke-width="1.5"/>
<path d="M179.2 18.3 L165.6 14.0 L165.6 22.6 Z" fill="#111"/>
<line x1="78" y1="83.6" x2="99.0" y2="83.6" stroke="#111" stroke-width="1.5"/>
<path d="M111.6 83.6 L98.0 79.3 L98.0 87.89999999999999 Z" fill="#111"/>
<line x1="134.8" y1="75.2" x2="166.6" y2="75.2" stroke="#111" stroke-width="1.5"/>
<path d="M179.2 75.2 L165.6 70.9 L165.6 79.5 Z" fill="#111"/>
<text x="31.4" y="112" font-size="10.2" text-anchor="middle" transform="rotate(-90 31.4 112)" stroke="#111" stroke-width="0.245">SSC</text>
<line x1="34.6" y1="100" x2="34.6" y2="123.6" stroke="#111" stroke-width="1.0"/>
<path d="M34.6 98 L32.9 101.6 L36.300000000000004 101.6 Z" fill="#111"/>
<line x1="34.1" y1="123.6" x2="58" y2="123.6" stroke="#111" stroke-width="1.0"/>
<path d="M60 123.6 L56.4 121.89999999999999 L56.4 125.3 Z" fill="#111"/>
<text x="35.4" y="133" font-size="10.2" stroke="#111" stroke-width="0.245">FSC</text>
<text x="103" y="110" font-size="10.2" text-anchor="middle" transform="rotate(-90 103 110)" stroke="#111" stroke-width="0.245">Sca-1</text>
<line x1="106.2" y1="100.6" x2="106.2" y2="121.6" stroke="#111" stroke-width="1.0"/>
<path d="M106.2 98.6 L104.5 102.19999999999999 L107.9 102.19999999999999 Z" fill="#111"/>
<line x1="105.7" y1="121.6" x2="131.4" y2="121.6" stroke="#111" stroke-width="1.0"/>
<path d="M133.4 121.6 L129.8 119.89999999999999 L129.8 123.3 Z" fill="#111"/>
<text x="107" y="132.6" font-size="10.2" stroke="#111" stroke-width="0.245">Lineage</text>
<text x="172" y="111.6" font-size="10.2" text-anchor="middle" transform="rotate(-90 172 111.6)" stroke="#111" stroke-width="0.245">c-Kit</text>
<line x1="174.4" y1="101" x2="174.4" y2="122.2" stroke="#111" stroke-width="1.0"/>
<path d="M174.4 99 L172.70000000000002 102.6 L176.1 102.6 Z" fill="#111"/>
<line x1="173.9" y1="122.2" x2="197.4" y2="122.2" stroke="#111" stroke-width="1.0"/>
<path d="M199.4 122.2 L195.8 120.5 L195.8 123.9 Z" fill="#111"/>
<text x="174.6" y="132.6" font-size="10.2" stroke="#111" stroke-width="0.245">Sca-1</text>
<text x="239" y="110.6" font-size="10.2" text-anchor="middle" transform="rotate(-90 239 110.6)" stroke="#111" stroke-width="0.245">CD48</text>
<line x1="241.6" y1="98" x2="241.6" y2="123" stroke="#111" stroke-width="1.0"/>
<path d="M241.6 96 L239.9 99.6 L243.29999999999998 99.6 Z" fill="#111"/>
<line x1="241.1" y1="123" x2="265.4" y2="123" stroke="#111" stroke-width="1.0"/>
<path d="M267.4 123 L263.79999999999995 121.3 L263.79999999999995 124.7 Z" fill="#111"/>
<text x="242.2" y="132.6" font-size="10.2" stroke="#111" stroke-width="0.245">CD150</text>
</g>
<g id="panelB">
<text x="331.4" y="9.2" font-size="10.8" font-weight="bold" stroke="#111" stroke-width="0.25">B</text>
<line x1="375.8" y1="83.2" x2="508" y2="83.2" stroke="#ababab" stroke-width="0.55"/>
<line x1="375.8" y1="53.2" x2="508" y2="53.2" stroke="#ababab" stroke-width="0.55"/>
<line x1="375.8" y1="23" x2="508" y2="23" stroke="#ababab" stroke-width="0.55"/>
<line x1="375.8" y1="23" x2="375.8" y2="113.4" stroke="#111" stroke-width="1.1"/>
<line x1="373.8" y1="113.4" x2="508" y2="113.4" stroke="#111" stroke-width="1.1"/>
<line x1="373.8" y1="83.2" x2="375.8" y2="83.2" stroke="#111" stroke-width="0.9"/>
<line x1="373.8" y1="53.2" x2="375.8" y2="53.2" stroke="#111" stroke-width="0.9"/>
<line x1="373.8" y1="23" x2="375.8" y2="23" stroke="#111" stroke-width="0.9"/>
<line x1="419.2" y1="113.4" x2="419.2" y2="116" stroke="#111" stroke-width="0.9"/>
<line x1="463.4" y1="113.4" x2="463.4" y2="116" stroke="#111" stroke-width="0.9"/>
<line x1="507.6" y1="113.4" x2="507.6" y2="116" stroke="#111" stroke-width="0.9"/>
<text x="372.4" y="115.7" font-size="8.8" text-anchor="end" stroke="#111" stroke-width="0.211">0</text>
<text x="372.4" y="85.5" font-size="8.8" text-anchor="end" stroke="#111" stroke-width="0.211">0.05</text>
<text x="372.4" y="55.5" font-size="8.8" text-anchor="end" stroke="#111" stroke-width="0.211">0.1</text>
<text x="372.4" y="25.3" font-size="8.8" text-anchor="end" stroke="#111" stroke-width="0.211">0.15</text>
<text x="343.9" y="68.7" font-size="7.0" text-anchor="middle" transform="rotate(-90 343.9 68.7)" stroke="#111" stroke-width="0.168">Frequency of LSKCD150+CD48-</text>
<text x="352.9" y="66.8" font-size="7.05" text-anchor="middle" transform="rotate(-90 352.9 66.8)" stroke="#111" stroke-width="0.169">cells (HSCs) in bone marrow</text>
<line x1="379.8" y1="16.6" x2="395.4" y2="16.6" stroke="#111" stroke-width="1.2"/>
<rect x="385.50" y="14.40" width="4.50" height="4.50" fill="#111"/>
<text x="397.6" y="20.6" font-size="10.5" stroke="#111" stroke-width="0.252">XLF+/+</text>
<line x1="442" y1="16.8" x2="457" y2="16.8" stroke="#555" stroke-width="0.9"/>
<rect x="448.00" y="15.20" width="3.20" height="3.20" fill="#fff" stroke="#444" stroke-width="0.75"/>
<text x="460.4" y="20.6" font-size="10.5" stroke="#111" stroke-width="0.252">XLF-/-</text>
<polyline points="398.4,95.6 441.6,83.6 485.4,39.4" fill="none" stroke="#666" stroke-width="0.9"/>
<polyline points="398.4,101 441.6,98.4 485.4,75" fill="none" stroke="#111" stroke-width="1.3"/>
<line x1="485.4" y1="39.4" x2="485.4" y2="30" stroke="#444" stroke-width="0.8"/>
<line x1="484.0" y1="30" x2="486.79999999999995" y2="30" stroke="#444" stroke-width="0.8"/>
<line x1="441.6" y1="98.4" x2="441.6" y2="94.4" stroke="#111" stroke-width="0.8"/>
<line x1="440.20000000000005" y1="94.4" x2="443.0" y2="94.4" stroke="#111" stroke-width="0.8"/>
<rect x="397.00" y="94.20" width="2.80" height="2.80" fill="#fff" stroke="#444" stroke-width="0.75"/>
<rect x="440.20" y="82.20" width="2.80" height="2.80" fill="#fff" stroke="#444" stroke-width="0.75"/>
<rect x="484.00" y="38.00" width="2.80" height="2.80" fill="#fff" stroke="#444" stroke-width="0.75"/>
<rect x="396.50" y="99.10" width="3.80" height="3.80" fill="#111"/>
<rect x="439.70" y="96.50" width="3.80" height="3.80" fill="#111"/>
<rect x="483.50" y="73.10" width="3.80" height="3.80" fill="#111"/>
<text x="441.2" y="86.12" font-size="14" text-anchor="middle" stroke="#111" stroke-width="0.2">*</text>
<text x="485.2" y="32.73" font-size="14" text-anchor="middle" stroke="#111" stroke-width="0.2">*</text>
<text x="398.4" y="125.4" font-size="9.6" text-anchor="middle" stroke="#111" stroke-width="0.23">3</text>
<text x="441.8" y="125.4" font-size="9.6" text-anchor="middle" stroke="#111" stroke-width="0.23">6</text>
<text x="487.4" y="125.4" font-size="9.6" text-anchor="middle" stroke="#111" stroke-width="0.23">12</text>
<text x="445" y="137.6" font-size="10.5" text-anchor="middle" stroke="#111" stroke-width="0.252">Age (months)</text>
</g>
<g id="panelC">
<text x="1.4" y="162" font-size="10.8" font-weight="bold" stroke="#111" stroke-width="0.25">C</text>
<rect x="29.60" y="161.00" width="6.60" height="6.60" fill="#111"/>
<text x="37.4" y="167.6" font-size="10.2" stroke="#111" stroke-width="0.245">XLF+/+</text>
<rect x="80.00" y="160.60" width="6.60" height="6.60" fill="#858585" stroke="#333" stroke-width="0.7"/>
<text x="88" y="167.6" font-size="10.2" stroke="#111" stroke-width="0.245">XLF-/-</text>
<text x="8.6" y="227.5" font-size="8.8" text-anchor="middle" transform="rotate(-90 8.6 227.5)" stroke="#111" stroke-width="0.211">Donor/competitor ratio</text>
<line x1="24" y1="245.75" x2="182.6" y2="245.75" stroke="#ababab" stroke-width="0.55"/>
<line x1="24" y1="226.9" x2="182.6" y2="226.9" stroke="#ababab" stroke-width="0.55"/>
<line x1="24" y1="208.05" x2="182.6" y2="208.05" stroke="#ababab" stroke-width="0.55"/>
<line x1="24" y1="189.2" x2="182.6" y2="189.2" stroke="#ababab" stroke-width="0.55"/>
<line x1="24" y1="189.2" x2="24" y2="264.6" stroke="#111" stroke-width="1.0"/>
<line x1="22" y1="264.6" x2="183.6" y2="264.6" stroke="#111" stroke-width="1.0"/>
<line x1="22" y1="264.6" x2="24" y2="264.6" stroke="#111" stroke-width="0.8"/>
<text x="20.4" y="268.0" font-size="9.6" text-anchor="end" stroke="#111" stroke-width="0.23">0</text>
<line x1="22" y1="245.75" x2="24" y2="245.75" stroke="#111" stroke-width="0.8"/>
<text x="20.4" y="249.15" font-size="9.6" text-anchor="end" stroke="#111" stroke-width="0.23">1</text>
<line x1="22" y1="226.9" x2="24" y2="226.9" stroke="#111" stroke-width="0.8"/>
<text x="20.4" y="230.3" font-size="9.6" text-anchor="end" stroke="#111" stroke-width="0.23">2</text>
<line x1="22" y1="208.05" x2="24" y2="208.05" stroke="#111" stroke-width="0.8"/>
<text x="20.4" y="211.45000000000002" font-size="9.6" text-anchor="end" stroke="#111" stroke-width="0.23">3</text>
<line x1="22" y1="189.2" x2="24" y2="189.2" stroke="#111" stroke-width="0.8"/>
<text x="20.4" y="192.6" font-size="9.6" text-anchor="end" stroke="#111" stroke-width="0.23">4</text>
<line x1="24" y1="264.6" x2="24" y2="267.20000000000005" stroke="#111" stroke-width="0.9"/>
<line x1="63.9" y1="264.6" x2="63.9" y2="267.0" stroke="#111" stroke-width="0.8"/>
<line x1="103.8" y1="264.6" x2="103.8" y2="267.0" stroke="#111" stroke-width="0.8"/>
<line x1="143.7" y1="264.6" x2="143.7" y2="267.0" stroke="#111" stroke-width="0.8"/>
<line x1="183.6" y1="264.6" x2="183.6" y2="267.0" stroke="#111" stroke-width="0.8"/>
<text x="104.8" y="186.8" font-size="9.75" text-anchor="middle" stroke="#111" stroke-width="0.234">6-month-old</text>
<rect x="32.40" y="240.40" width="11.60" height="24.20" fill="#111"/>
<rect x="44.00" y="259.00" width="11.60" height="5.60" fill="#858585" stroke="#333" stroke-width="0.6"/>
<line x1="38.2" y1="240.4" x2="38.2" y2="234.4" stroke="#111" stroke-width="1.0"/>
<line x1="35.7" y1="234.4" x2="40.7" y2="234.4" stroke="#111" stroke-width="1.0"/>
<line x1="49.8" y1="259.0" x2="49.8" y2="256.4" stroke="#111" stroke-width="1.0"/>
<line x1="47.3" y1="256.4" x2="52.3" y2="256.4" stroke="#111" stroke-width="1.0"/>
<rect x="72.40" y="218.00" width="11.60" height="46.60" fill="#111"/>
<rect x="84.00" y="253.00" width="11.40" height="11.60" fill="#858585" stroke="#333" stroke-width="0.6"/>
<line x1="78.2" y1="218.0" x2="78.2" y2="206.4" stroke="#111" stroke-width="1.0"/>
<line x1="75.7" y1="206.4" x2="80.7" y2="206.4" stroke="#111" stroke-width="1.0"/>
<line x1="89.7" y1="253.0" x2="89.7" y2="247.0" stroke="#111" stroke-width="1.0"/>
<line x1="87.2" y1="247.0" x2="92.2" y2="247.0" stroke="#111" stroke-width="1.0"/>
<rect x="111.60" y="241.60" width="11.40" height="23.00" fill="#111"/>
<rect x="123.00" y="262.00" width="11.40" height="2.60" fill="#858585" stroke="#333" stroke-width="0.6"/>
<line x1="117.3" y1="241.6" x2="117.3" y2="235.6" stroke="#111" stroke-width="1.0"/>
<line x1="114.8" y1="235.6" x2="119.8" y2="235.6" stroke="#111" stroke-width="1.0"/>
<line x1="128.7" y1="262.0" x2="128.7" y2="261.0" stroke="#111" stroke-width="1.0"/>
<line x1="126.19999999999999" y1="261.0" x2="131.2" y2="261.0" stroke="#111" stroke-width="1.0"/>
<rect x="151.00" y="253.60" width="11.60" height="11.00" fill="#111"/>
<rect x="162.60" y="260.00" width="11.80" height="4.60" fill="#858585" stroke="#333" stroke-width="0.6"/>
<line x1="156.8" y1="253.6" x2="156.8" y2="251.0" stroke="#111" stroke-width="1.0"/>
<line x1="154.3" y1="251.0" x2="159.3" y2="251.0" stroke="#111" stroke-width="1.0"/>
<line x1="168.5" y1="260.0" x2="168.5" y2="258.0" stroke="#111" stroke-width="1.0"/>
<line x1="166.0" y1="258.0" x2="171.0" y2="258.0" stroke="#111" stroke-width="1.0"/>
<text x="50" y="259.12" font-size="14" text-anchor="middle" stroke="#111" stroke-width="0.2">*</text>
<text x="90" y="249.53" font-size="14" text-anchor="middle" stroke="#111" stroke-width="0.2">*</text>
<text x="129" y="262.52" font-size="14" text-anchor="middle" stroke="#111" stroke-width="0.2">*</text>
<text x="169.6" y="252.6" font-size="6.5" text-anchor="middle" stroke="#111" stroke-width="0.156">N.S.</text>
<text x="44.4" y="275.7" font-size="10.6" text-anchor="middle" stroke="#111" stroke-width="0.254">MNCs</text>
<text x="83.6" y="275.7" font-size="10.6" text-anchor="middle" stroke="#111" stroke-width="0.254">Myeloid</text>
<text x="83.6" y="288.8" font-size="10.6" text-anchor="middle" stroke="#111" stroke-width="0.254">cells</text>
<text x="124" y="275.7" font-size="10.6" text-anchor="middle" stroke="#111" stroke-width="0.254">B cells</text>
<text x="164.8" y="275.7" font-size="10.6" text-anchor="middle" stroke="#111" stroke-width="0.254">T cells</text>
<line x1="198.4" y1="239.70000000000002" x2="357.5" y2="239.70000000000002" stroke="#ababab" stroke-width="0.55"/>
<line x1="198.4" y1="214.1" x2="357.5" y2="214.1" stroke="#ababab" stroke-width="0.55"/>
<line x1="198.4" y1="188.5" x2="357.5" y2="188.5" stroke="#ababab" stroke-width="0.55"/>
<line x1="198.4" y1="188.5" x2="198.4" y2="265.3" stroke="#111" stroke-width="1.0"/>
<line x1="196.4" y1="265.3" x2="358.5" y2="265.3" stroke="#111" stroke-width="1.0"/>
<line x1="196.4" y1="265.3" x2="198.4" y2="265.3" stroke="#111" stroke-width="0.8"/>
<text x="194.4" y="268.7" font-size="9.6" text-anchor="end" stroke="#111" stroke-width="0.23">0</text>
<line x1="196.4" y1="239.70000000000002" x2="198.4" y2="239.70000000000002" stroke="#111" stroke-width="0.8"/>
<text x="194.4" y="243.10000000000002" font-size="9.6" text-anchor="end" stroke="#111" stroke-width="0.23">2</text>
<line x1="196.4" y1="214.1" x2="198.4" y2="214.1" stroke="#111" stroke-width="0.8"/>
<text x="194.4" y="217.5" font-size="9.6" text-anchor="end" stroke="#111" stroke-width="0.23">4</text>
<line x1="196.4" y1="188.5" x2="198.4" y2="188.5" stroke="#111" stroke-width="0.8"/>
<text x="194.4" y="191.9" font-size="9.6" text-anchor="end" stroke="#111" stroke-width="0.23">6</text>
<line x1="198.4" y1="265.3" x2="198.4" y2="267.90000000000003" stroke="#111" stroke-width="0.9"/>
<line x1="238.425" y1="265.3" x2="238.425" y2="267.7" stroke="#111" stroke-width="0.8"/>
<line x1="278.45" y1="265.3" x2="278.45" y2="267.7" stroke="#111" stroke-width="0.8"/>
<line x1="318.475" y1="265.3" x2="318.475" y2="267.7" stroke="#111" stroke-width="0.8"/>
<line x1="358.5" y1="265.3" x2="358.5" y2="267.7" stroke="#111" stroke-width="0.8"/>
<text x="277.7" y="186.8" font-size="9.75" text-anchor="middle" stroke="#111" stroke-width="0.234">12-month-old</text>
<rect x="206.60" y="226.00" width="11.80" height="39.30" fill="#111"/>
<rect x="218.40" y="263.00" width="11.60" height="2.30" fill="#858585" stroke="#333" stroke-width="0.6"/>
<line x1="212.5" y1="226.0" x2="212.5" y2="216.4" stroke="#111" stroke-width="1.0"/>
<line x1="210.0" y1="216.4" x2="215.0" y2="216.4" stroke="#111" stroke-width="1.0"/>
<rect x="246.60" y="210.40" width="11.80" height="54.90" fill="#111"/>
<rect x="258.40" y="259.00" width="11.60" height="6.30" fill="#858585" stroke="#333" stroke-width="0.6"/>
<line x1="252.5" y1="210.4" x2="252.5" y2="197.0" stroke="#111" stroke-width="1.0"/>
<line x1="250.0" y1="197.0" x2="255.0" y2="197.0" stroke="#111" stroke-width="1.0"/>
<line x1="264.2" y1="259.0" x2="264.2" y2="256.4" stroke="#111" stroke-width="1.0"/>
<line x1="261.7" y1="256.4" x2="266.7" y2="256.4" stroke="#111" stroke-width="1.0"/>
<rect x="286.00" y="214.30" width="12.30" height="51.00" fill="#111"/>
<rect x="298.30" y="263.40" width="11.70" height="1.90" fill="#858585" stroke="#333" stroke-width="0.6"/>
<line x1="292.15" y1="214.3" x2="292.15" y2="196.7" stroke="#111" stroke-width="1.0"/>
<line x1="289.65" y1="196.7" x2="294.65" y2="196.7" stroke="#111" stroke-width="1.0"/>
<rect x="326.00" y="241.90" width="12.30" height="23.40" fill="#111"/>
<rect x="338.30" y="263.40" width="11.70" height="1.90" fill="#858585" stroke="#333" stroke-width="0.6"/>
<line x1="332.15" y1="241.9" x2="332.15" y2="236.7" stroke="#111" stroke-width="1.0"/>
<line x1="329.65" y1="236.7" x2="334.65" y2="236.7" stroke="#111" stroke-width="1.0"/>
<text x="225.6" y="263.72" font-size="14" text-anchor="middle" stroke="#111" stroke-width="0.2">*</text>
<text x="264" y="257.93" font-size="14" text-anchor="middle" stroke="#111" stroke-width="0.2">*</text>
<text x="304" y="265.02" font-size="14" text-anchor="middle" stroke="#111" stroke-width="0.2">*</text>
<text x="344" y="265.02" font-size="14" text-anchor="middle" stroke="#111" stroke-width="0.2">*</text>
<text x="219" y="276.1" font-size="10.6" text-anchor="middle" stroke="#111" stroke-width="0.254">MNCs</text>
<text x="258.6" y="276.1" font-size="10.6" text-anchor="middle" stroke="#111" stroke-width="0.254">Myeloid</text>
<text x="258.6" y="289.2" font-size="10.6" text-anchor="middle" stroke="#111" stroke-width="0.254">cells</text>
<text x="298.6" y="276.1" font-size="10.6" text-anchor="middle" stroke="#111" stroke-width="0.254">B cells</text>
<text x="339.6" y="276.1" font-size="10.6" text-anchor="middle" stroke="#111" stroke-width="0.254">T cells</text>
</g>
<g id="panelD">
<text x="361.8" y="162" font-size="10.8" font-weight="bold" stroke="#111" stroke-width="0.25">D</text>
<rect x="408.40" y="154.40" width="6.80" height="6.80" fill="#111"/>
<text x="416.8" y="161.2" font-size="10.2" stroke="#111" stroke-width="0.245">XLF+/+</text>
<rect x="458.00" y="154.40" width="6.60" height="6.60" fill="#858585" stroke="#333" stroke-width="0.7"/>
<text x="467.0" y="161.2" font-size="10.3" stroke="#111" stroke-width="0.247">XLF-/-</text>
<line x1="404" y1="249.68333333333334" x2="520" y2="249.68333333333334" stroke="#ababab" stroke-width="0.55"/>
<line x1="404" y1="232.86666666666667" x2="520" y2="232.86666666666667" stroke="#ababab" stroke-width="0.55"/>
<line x1="404" y1="216.05" x2="520" y2="216.05" stroke="#ababab" stroke-width="0.55"/>
<line x1="404" y1="199.23333333333335" x2="520" y2="199.23333333333335" stroke="#ababab" stroke-width="0.55"/>
<line x1="404" y1="182.41666666666669" x2="520" y2="182.41666666666669" stroke="#ababab" stroke-width="0.55"/>
<line x1="404" y1="165.6" x2="520" y2="165.6" stroke="#ababab" stroke-width="0.55"/>
<line x1="404" y1="165.6" x2="404" y2="266.5" stroke="#111" stroke-width="1.0"/>
<line x1="402" y1="266.5" x2="520" y2="266.5" stroke="#111" stroke-width="1.0"/>
<line x1="402" y1="266.5" x2="404" y2="266.5" stroke="#111" stroke-width="0.8"/>
<text x="400.6" y="269.9" font-size="9.6" text-anchor="end" stroke="#111" stroke-width="0.23">0</text>
<line x1="402" y1="249.68333333333334" x2="404" y2="249.68333333333334" stroke="#111" stroke-width="0.8"/>
<text x="400.6" y="253.08333333333334" font-size="9.6" text-anchor="end" stroke="#111" stroke-width="0.23">1</text>
<line x1="402" y1="232.86666666666667" x2="404" y2="232.86666666666667" stroke="#111" stroke-width="0.8"/>
<text x="400.6" y="236.26666666666668" font-size="9.6" text-anchor="end" stroke="#111" stroke-width="0.23">2</text>
<line x1="402" y1="216.05" x2="404" y2="216.05" stroke="#111" stroke-width="0.8"/>
<text x="400.6" y="219.45000000000002" font-size="9.6" text-anchor="end" stroke="#111" stroke-width="0.23">3</text>
<line x1="402" y1="199.23333333333335" x2="404" y2="199.23333333333335" stroke="#111" stroke-width="0.8"/>
<text x="400.6" y="202.63333333333335" font-size="9.6" text-anchor="end" stroke="#111" stroke-width="0.23">4</text>
<line x1="402" y1="182.41666666666669" x2="404" y2="182.41666666666669" stroke="#111" stroke-width="0.8"/>
<text x="400.6" y="185.8166666666667" font-size="9.6" text-anchor="end" stroke="#111" stroke-width="0.23">5</text>
<line x1="402" y1="165.6" x2="404" y2="165.6" stroke="#111" stroke-width="0.8"/>
<text x="400.6" y="169.0" font-size="9.6" text-anchor="end" stroke="#111" stroke-width="0.23">6</text>
<line x1="442.5" y1="266.5" x2="442.5" y2="268.9" stroke="#111" stroke-width="0.8"/>
<line x1="480.4" y1="266.5" x2="480.4" y2="268.9" stroke="#111" stroke-width="0.8"/>
<line x1="516.6" y1="266.5" x2="516.6" y2="268.9" stroke="#111" stroke-width="0.8"/>
<text x="381.3" y="217.5" font-size="8.2" text-anchor="middle" transform="rotate(-90 381.3 217.5)" stroke="#111" stroke-width="0.197">Fold increase in myelopoiesis</text>
<text x="392.1" y="218" font-size="8.2" text-anchor="middle" transform="rotate(-90 392.1 218)" stroke="#111" stroke-width="0.197">vs XLF+/+</text>
<rect x="412.60" y="249.68" width="11.40" height="16.82" fill="#111"/>
<rect x="424.00" y="202.00" width="10.40" height="64.50" fill="#858585" stroke="#333" stroke-width="0.6"/>
<line x1="429.2" y1="202.0" x2="429.2" y2="181.6" stroke="#111" stroke-width="1.0"/>
<line x1="426.4" y1="181.6" x2="432.0" y2="181.6" stroke="#111" stroke-width="1.0"/>
<rect x="450.40" y="249.68" width="11.20" height="16.82" fill="#111"/>
<rect x="461.60" y="227.00" width="11.40" height="39.50" fill="#858585" stroke="#333" stroke-width="0.6"/>
<line x1="467.3" y1="227.0" x2="467.3" y2="217.6" stroke="#111" stroke-width="1.0"/>
<line x1="464.5" y1="217.6" x2="470.1" y2="217.6" stroke="#111" stroke-width="1.0"/>
<rect x="488.40" y="249.68" width="11.20" height="16.82" fill="#111"/>
<rect x="499.60" y="220.00" width="11.20" height="46.50" fill="#858585" stroke="#333" stroke-width="0.6"/>
<line x1="505.20000000000005" y1="220.0" x2="505.20000000000005" y2="207.4" stroke="#111" stroke-width="1.0"/>
<line x1="502.40000000000003" y1="207.4" x2="508.00000000000006" y2="207.4" stroke="#111" stroke-width="1.0"/>
<text x="429.4" y="183.12" font-size="14" text-anchor="middle" stroke="#111" stroke-width="0.2">*</text>
<text x="467.4" y="217.93" font-size="14" text-anchor="middle" stroke="#111" stroke-width="0.2">*</text>
<text x="505.4" y="208.12" font-size="14" text-anchor="middle" stroke="#111" stroke-width="0.2">*</text>
<text x="423" y="279.2" font-size="9.6" text-anchor="middle" stroke="#111" stroke-width="0.23">3</text>
<text x="462" y="278.8" font-size="9.6" text-anchor="middle" stroke="#111" stroke-width="0.23">6</text>
<text x="498.8" y="278.8" font-size="9.6" text-anchor="middle" stroke="#111" stroke-width="0.23">12</text>
<text x="465.2" y="287.6" font-size="10.6" text-anchor="middle" stroke="#111" stroke-width="0.254">Age (months)</text>
</g>
<g id="panelE">
<text x="0.8" y="311" font-size="10.8" font-weight="bold" stroke="#111" stroke-width="0.25">E</text>
<line x1="32" y1="310.4" x2="43.8" y2="310.4" stroke="#111" stroke-width="1.2"/>
<rect x="36.40" y="308.50" width="3.80" height="3.80" fill="#111"/>
<text x="44.4" y="313.8" font-size="9.3" stroke="#111" stroke-width="0.223">XLF+/+</text>
<line x1="79" y1="310.4" x2="90.4" y2="310.4" stroke="#555" stroke-width="0.8"/>
<rect x="83.40" y="309.00" width="2.90" height="2.90" fill="#fff" stroke="#444" stroke-width="0.7"/>
<text x="90.8" y="313.8" font-size="9.0" stroke="#111" stroke-width="0.216">XLF-/-</text>
<text x="92.2" y="324.2" font-size="6.9" text-anchor="middle" stroke="#111" stroke-width="0.166">Myeloid cells</text>
<line x1="30.0" y1="325.74" x2="161" y2="325.74" stroke="#ababab" stroke-width="0.55"/>
<line x1="30.0" y1="343.57" x2="161" y2="343.57" stroke="#ababab" stroke-width="0.55"/>
<line x1="30.0" y1="379.22999999999996" x2="161" y2="379.22999999999996" stroke="#ababab" stroke-width="0.55"/>
<line x1="30.0" y1="397.05999999999995" x2="161" y2="397.05999999999995" stroke="#ababab" stroke-width="0.55"/>
<line x1="30.0" y1="325.74" x2="30.0" y2="414.89" stroke="#111" stroke-width="1.0"/>
<line x1="30.0" y1="414.89" x2="161" y2="414.89" stroke="#555" stroke-width="0.8"/>
<line x1="28.0" y1="361.4" x2="161" y2="361.4" stroke="#111" stroke-width="1.2"/>
<line x1="27.6" y1="325.74" x2="30.0" y2="325.74" stroke="#111" stroke-width="0.7"/>
<line x1="28.4" y1="334.655" x2="30.0" y2="334.655" stroke="#111" stroke-width="0.7"/>
<line x1="27.6" y1="343.57" x2="30.0" y2="343.57" stroke="#111" stroke-width="0.7"/>
<line x1="28.4" y1="352.48499999999996" x2="30.0" y2="352.48499999999996" stroke="#111" stroke-width="0.7"/>
<line x1="27.6" y1="361.4" x2="30.0" y2="361.4" stroke="#111" stroke-width="0.7"/>
<line x1="28.4" y1="370.315" x2="30.0" y2="370.315" stroke="#111" stroke-width="0.7"/>
<line x1="27.6" y1="379.22999999999996" x2="30.0" y2="379.22999999999996" stroke="#111" stroke-width="0.7"/>
<line x1="28.4" y1="388.145" x2="30.0" y2="388.145" stroke="#111" stroke-width="0.7"/>
<line x1="27.6" y1="397.05999999999995" x2="30.0" y2="397.05999999999995" stroke="#111" stroke-width="0.7"/>
<line x1="28.4" y1="405.97499999999997" x2="30.0" y2="405.97499999999997" stroke="#111" stroke-width="0.7"/>
<line x1="27.6" y1="414.89" x2="30.0" y2="414.89" stroke="#111" stroke-width="0.7"/>
<line x1="74.2" y1="361.4" x2="74.2" y2="363.4" stroke="#111" stroke-width="0.7"/>
<line x1="118" y1="361.4" x2="118" y2="363.4" stroke="#111" stroke-width="0.7"/>
<line x1="160.8" y1="361.4" x2="160.8" y2="363.4" stroke="#111" stroke-width="0.7"/>
<text x="26.6" y="328.84000000000003" font-size="8.9" text-anchor="end" stroke="#111" stroke-width="0.214">0.8</text>
<text x="26.6" y="346.67" font-size="8.9" text-anchor="end" stroke="#111" stroke-width="0.214">0.4</text>
<text x="26.6" y="364.5" font-size="8.9" text-anchor="end" stroke="#111" stroke-width="0.214">0</text>
<text x="26.6" y="382.33" font-size="8.9" text-anchor="end" stroke="#111" stroke-width="0.214">-0.4</text>
<text x="26.6" y="400.15999999999997" font-size="8.9" text-anchor="end" stroke="#111" stroke-width="0.214">-0.8</text>
<text x="26.6" y="417.99" font-size="8.9" text-anchor="end" stroke="#111" stroke-width="0.214">-1.2</text>
<text x="8.8" y="363" font-size="9.1" text-anchor="middle" transform="rotate(-90 8.8 363)" stroke="#111" stroke-width="0.218">Delta log ratio</text>
<polyline points="52.4,344 96.4,390.6 140,372.6" fill="none" stroke="#666" stroke-width="0.9"/>
<polyline points="52.4,359 96.4,343.6 140,352" fill="none" stroke="#111" stroke-width="1.3"/>
<line x1="52.4" y1="344" x2="52.4" y2="350.4" stroke="#555" stroke-width="0.8"/>
<line x1="50.9" y1="350.4" x2="53.9" y2="350.4" stroke="#555" stroke-width="0.8"/>
<line x1="52.4" y1="359" x2="52.4" y2="353.2" stroke="#111" stroke-width="0.8"/>
<line x1="50.9" y1="353.2" x2="53.9" y2="353.2" stroke="#111" stroke-width="0.8"/>
<line x1="96.4" y1="343.6" x2="96.4" y2="335.6" stroke="#111" stroke-width="0.9"/>
<line x1="94.4" y1="335.6" x2="98.4" y2="335.6" stroke="#111" stroke-width="0.9"/>
<line x1="96.4" y1="390.6" x2="96.4" y2="405.4" stroke="#555" stroke-width="0.8"/>
<line x1="94.2" y1="405.4" x2="98.60000000000001" y2="405.4" stroke="#555" stroke-width="0.8"/>
<line x1="140" y1="352" x2="140" y2="348" stroke="#111" stroke-width="0.8"/>
<line x1="138.5" y1="348" x2="141.5" y2="348" stroke="#111" stroke-width="0.8"/>
<rect x="50.20" y="341.80" width="4.40" height="4.40" fill="#fff" stroke="#444" stroke-width="0.8"/>
<rect x="94.20" y="388.40" width="4.40" height="4.40" fill="#fff" stroke="#444" stroke-width="0.8"/>
<rect x="137.80" y="370.40" width="4.40" height="4.40" fill="#fff" stroke="#444" stroke-width="0.8"/>
<rect x="50.00" y="356.60" width="4.80" height="4.80" fill="#111"/>
<rect x="94.00" y="341.20" width="4.80" height="4.80" fill="#111"/>
<rect x="137.60" y="349.60" width="4.80" height="4.80" fill="#111"/>
<text x="96.4" y="389.91" font-size="11" text-anchor="middle" stroke="#111" stroke-width="0.2">*</text>
<text x="140" y="371.21" font-size="11" text-anchor="middle" stroke="#111" stroke-width="0.2">*</text>
<text x="53.6" y="424.0" font-size="9" text-anchor="middle" stroke="#111" stroke-width="0.216">3</text>
<text x="96" y="424.0" font-size="9" text-anchor="middle" stroke="#111" stroke-width="0.216">6</text>
<text x="140" y="424.0" font-size="9" text-anchor="middle" stroke="#111" stroke-width="0.216">12</text>
<text x="99" y="439.0" font-size="8.6" text-anchor="middle" stroke="#111" stroke-width="0.206">Age (months)</text>
</g>
<g id="panelF">
<text x="169.8" y="311" font-size="10.8" font-weight="bold" stroke="#111" stroke-width="0.25">F</text>
<rect x="196.40" y="304.20" width="6.60" height="6.40" fill="#111"/>
<text x="206" y="311" font-size="9.3" stroke="#111" stroke-width="0.223">XLF+/-</text>
<rect x="242.40" y="304.60" width="6.60" height="6.40" fill="#858585" stroke="#333" stroke-width="0.7"/>
<text x="252.2" y="311" font-size="9.3" stroke="#111" stroke-width="0.223">XLF-/-</text>
<text x="177.2" y="368.8" font-size="8.75" text-anchor="middle" transform="rotate(-90 177.2 368.8)" stroke="#111" stroke-width="0.21">Donor/competitor ratio</text>
<text x="191.8" y="421.1" font-size="8.6" text-anchor="end" stroke="#111" stroke-width="0.206">0</text>
<text x="191.8" y="395.6" font-size="8.6" text-anchor="end" stroke="#111" stroke-width="0.206">0.1</text>
<text x="191.8" y="370.1" font-size="8.6" text-anchor="end" stroke="#111" stroke-width="0.206">0.2</text>
<text x="191.8" y="344.6" font-size="8.6" text-anchor="end" stroke="#111" stroke-width="0.206">0.3</text>
<text x="191.8" y="319.1" font-size="8.6" text-anchor="end" stroke="#111" stroke-width="0.206">0.4</text>
<line x1="194.0" y1="393.5" x2="242.6" y2="393.5" stroke="#ababab" stroke-width="0.55"/>
<line x1="194.0" y1="368.0" x2="242.6" y2="368.0" stroke="#ababab" stroke-width="0.55"/>
<line x1="194.0" y1="342.5" x2="242.6" y2="342.5" stroke="#ababab" stroke-width="0.55"/>
<line x1="194.0" y1="317.0" x2="242.6" y2="317.0" stroke="#ababab" stroke-width="0.55"/>
<line x1="194.0" y1="317.0" x2="194.0" y2="419.0" stroke="#111" stroke-width="1.0"/>
<line x1="192.0" y1="419.0" x2="242.6" y2="419.0" stroke="#111" stroke-width="1.0"/>
<line x1="192.0" y1="393.5" x2="194.0" y2="393.5" stroke="#111" stroke-width="0.8"/>
<line x1="192.0" y1="368.0" x2="194.0" y2="368.0" stroke="#111" stroke-width="0.8"/>
<line x1="192.0" y1="342.5" x2="194.0" y2="342.5" stroke="#111" stroke-width="0.8"/>
<line x1="192.0" y1="317.0" x2="194.0" y2="317.0" stroke="#111" stroke-width="0.8"/>
<line x1="242.6" y1="419.0" x2="242.6" y2="421.2" stroke="#111" stroke-width="0.8"/>
<rect x="204.00" y="371.00" width="15.00" height="48.00" fill="#111"/>
<rect x="219.00" y="416.40" width="13.60" height="2.60" fill="#858585" stroke="#333" stroke-width="0.6"/>
<line x1="211.5" y1="371.0" x2="211.5" y2="351.0" stroke="#111" stroke-width="0.9"/>
<line x1="209.6" y1="351.0" x2="213.4" y2="351.0" stroke="#111" stroke-width="0.9"/>
<text x="225.6" y="417.84" font-size="9" text-anchor="middle" stroke="#111" stroke-width="0.2">*</text>
<line x1="251.0" y1="393.5" x2="301.0" y2="393.5" stroke="#ababab" stroke-width="0.55"/>
<line x1="251.0" y1="368.0" x2="301.0" y2="368.0" stroke="#ababab" stroke-width="0.55"/>
<line x1="251.0" y1="342.5" x2="301.0" y2="342.5" stroke="#ababab" stroke-width="0.55"/>
<line x1="251.0" y1="317.0" x2="301.0" y2="317.0" stroke="#ababab" stroke-width="0.55"/>
<line x1="251.0" y1="317.0" x2="251.0" y2="419.0" stroke="#111" stroke-width="1.0"/>
<line x1="249.0" y1="419.0" x2="301.0" y2="419.0" stroke="#111" stroke-width="1.0"/>
<line x1="249.0" y1="393.5" x2="251.0" y2="393.5" stroke="#111" stroke-width="0.8"/>
<line x1="249.0" y1="368.0" x2="251.0" y2="368.0" stroke="#111" stroke-width="0.8"/>
<line x1="249.0" y1="342.5" x2="251.0" y2="342.5" stroke="#111" stroke-width="0.8"/>
<line x1="249.0" y1="317.0" x2="251.0" y2="317.0" stroke="#111" stroke-width="0.8"/>
<line x1="301.0" y1="419.0" x2="301.0" y2="421.2" stroke="#111" stroke-width="0.8"/>
<rect x="260.50" y="342.00" width="14.20" height="77.00" fill="#111"/>
<rect x="274.70" y="416.50" width="13.80" height="2.50" fill="#858585" stroke="#333" stroke-width="0.6"/>
<line x1="267.6" y1="342.0" x2="267.6" y2="319.0" stroke="#111" stroke-width="0.9"/>
<line x1="265.70000000000005" y1="319.0" x2="269.5" y2="319.0" stroke="#111" stroke-width="0.9"/>
<text x="282.0" y="416.84" font-size="9" text-anchor="middle" stroke="#111" stroke-width="0.2">*</text>
<line x1="307.7" y1="393.5" x2="357.0" y2="393.5" stroke="#ababab" stroke-width="0.55"/>
<line x1="307.7" y1="368.0" x2="357.0" y2="368.0" stroke="#ababab" stroke-width="0.55"/>
<line x1="307.7" y1="342.5" x2="357.0" y2="342.5" stroke="#ababab" stroke-width="0.55"/>
<line x1="307.7" y1="317.0" x2="357.0" y2="317.0" stroke="#ababab" stroke-width="0.55"/>
<line x1="307.7" y1="317.0" x2="307.7" y2="419.0" stroke="#111" stroke-width="1.0"/>
<line x1="305.7" y1="419.0" x2="357.0" y2="419.0" stroke="#111" stroke-width="1.0"/>
<line x1="305.7" y1="393.5" x2="307.7" y2="393.5" stroke="#111" stroke-width="0.8"/>
<line x1="305.7" y1="368.0" x2="307.7" y2="368.0" stroke="#111" stroke-width="0.8"/>
<line x1="305.7" y1="342.5" x2="307.7" y2="342.5" stroke="#111" stroke-width="0.8"/>
<line x1="305.7" y1="317.0" x2="307.7" y2="317.0" stroke="#111" stroke-width="0.8"/>
<line x1="357.0" y1="419.0" x2="357.0" y2="421.2" stroke="#111" stroke-width="0.8"/>
<rect x="317.60" y="370.00" width="14.10" height="49.00" fill="#111"/>
<rect x="331.70" y="417.40" width="14.30" height="1.60" fill="#858585" stroke="#333" stroke-width="0.6"/>
<line x1="324.65" y1="370.0" x2="324.65" y2="349.0" stroke="#111" stroke-width="0.9"/>
<line x1="322.75" y1="349.0" x2="326.54999999999995" y2="349.0" stroke="#111" stroke-width="0.9"/>
<text x="339.0" y="418.84" font-size="9" text-anchor="middle" stroke="#111" stroke-width="0.2">*</text>
<text x="220" y="428.6" font-size="9.1" text-anchor="middle" stroke="#111" stroke-width="0.218">MNCs</text>
<text x="277.6" y="429.8" font-size="9.0" text-anchor="middle" stroke="#111" stroke-width="0.216">Myeloid</text>
<text x="277" y="439.6" font-size="9.0" text-anchor="middle" stroke="#111" stroke-width="0.216">cells</text>
<text x="335.2" y="429.8" font-size="9.0" text-anchor="middle" stroke="#111" stroke-width="0.216">B cells</text>
</g>
<g id="panelG">
<text x="362.2" y="311.6" font-size="10.8" font-weight="bold" stroke="#111" stroke-width="0.25">G</text>
<rect x="387.20" y="308.90" width="6.80" height="6.70" fill="#111"/>
<text x="397" y="316" font-size="10.3" stroke="#111" stroke-width="0.247">CTRL</text>
<rect x="431.20" y="309.20" width="6.80" height="6.80" fill="#858585" stroke="#333" stroke-width="0.7"/>
<text x="440.5" y="316" font-size="10.6" stroke="#111" stroke-width="0.254">XLF-/-</text>
<text x="369.4" y="366" font-size="8.8" text-anchor="middle" transform="rotate(-90 369.4 366)" stroke="#111" stroke-width="0.211">Donor/competitor ratio</text>
<line x1="382.6" y1="390.025" x2="472.4" y2="390.025" stroke="#ababab" stroke-width="0.55"/>
<line x1="382.6" y1="367.65" x2="472.4" y2="367.65" stroke="#ababab" stroke-width="0.55"/>
<line x1="382.6" y1="345.275" x2="472.4" y2="345.275" stroke="#ababab" stroke-width="0.55"/>
<line x1="382.6" y1="322.9" x2="472.4" y2="322.9" stroke="#ababab" stroke-width="0.55"/>
<line x1="382.6" y1="322.9" x2="382.6" y2="412.4" stroke="#111" stroke-width="1.0"/>
<line x1="380.6" y1="412.4" x2="472.4" y2="412.4" stroke="#111" stroke-width="1.0"/>
<line x1="380.6" y1="412.4" x2="382.6" y2="412.4" stroke="#111" stroke-width="0.8"/>
<text x="380.4" y="414.0" font-size="9.6" text-anchor="end" stroke="#111" stroke-width="0.23">0</text>
<line x1="380.6" y1="390.025" x2="382.6" y2="390.025" stroke="#111" stroke-width="0.8"/>
<text x="380.4" y="393.22499999999997" font-size="9.6" text-anchor="end" stroke="#111" stroke-width="0.23">1</text>
<line x1="380.6" y1="367.65" x2="382.6" y2="367.65" stroke="#111" stroke-width="0.8"/>
<text x="380.4" y="370.84999999999997" font-size="9.6" text-anchor="end" stroke="#111" stroke-width="0.23">2</text>
<line x1="380.6" y1="345.275" x2="382.6" y2="345.275" stroke="#111" stroke-width="0.8"/>
<text x="380.4" y="348.47499999999997" font-size="9.6" text-anchor="end" stroke="#111" stroke-width="0.23">3</text>
<line x1="380.6" y1="322.9" x2="382.6" y2="322.9" stroke="#111" stroke-width="0.8"/>
<text x="380.4" y="326.09999999999997" font-size="9.6" text-anchor="end" stroke="#111" stroke-width="0.23">4</text>
<line x1="412.2" y1="412.4" x2="412.2" y2="414.79999999999995" stroke="#111" stroke-width="0.8"/>
<line x1="442.2" y1="412.4" x2="442.2" y2="414.79999999999995" stroke="#111" stroke-width="0.8"/>
<line x1="472.2" y1="412.4" x2="472.2" y2="414.79999999999995" stroke="#111" stroke-width="0.8"/>
<rect x="389.00" y="409.00" width="8.60" height="3.40" fill="#111"/>
<rect x="397.60" y="396.40" width="8.40" height="16.00" fill="#858585" stroke="#333" stroke-width="0.6"/>
<line x1="393.3" y1="409.0" x2="393.3" y2="408.0" stroke="#111" stroke-width="0.7"/>
<line x1="391.7" y1="408.0" x2="394.90000000000003" y2="408.0" stroke="#111" stroke-width="0.7"/>
<line x1="401.8" y1="396.4" x2="401.8" y2="390.4" stroke="#111" stroke-width="0.7"/>
<line x1="400.2" y1="390.4" x2="403.40000000000003" y2="390.4" stroke="#111" stroke-width="0.7"/>
<rect x="418.40" y="384.00" width="9.00" height="28.40" fill="#111"/>
<rect x="427.40" y="389.40" width="8.40" height="23.00" fill="#858585" stroke="#333" stroke-width="0.6"/>
<line x1="422.9" y1="384.0" x2="422.9" y2="378.0" stroke="#111" stroke-width="0.7"/>
<line x1="421.29999999999995" y1="378.0" x2="424.5" y2="378.0" stroke="#111" stroke-width="0.7"/>
<line x1="431.6" y1="389.4" x2="431.6" y2="369.0" stroke="#111" stroke-width="0.7"/>
<line x1="430.0" y1="369.0" x2="433.20000000000005" y2="369.0" stroke="#111" stroke-width="0.7"/>
<rect x="448.20" y="359.20" width="8.40" height="53.20" fill="#111"/>
<rect x="456.60" y="403.60" width="8.80" height="8.80" fill="#858585" stroke="#333" stroke-width="0.6"/>
<line x1="452.4" y1="359.2" x2="452.4" y2="340.8" stroke="#111" stroke-width="0.7"/>
<line x1="450.79999999999995" y1="340.8" x2="454.0" y2="340.8" stroke="#111" stroke-width="0.7"/>
<line x1="461.0" y1="403.6" x2="461.0" y2="399.4" stroke="#111" stroke-width="0.7"/>
<line x1="459.4" y1="399.4" x2="462.6" y2="399.4" stroke="#111" stroke-width="0.7"/>
<text x="459" y="400.91" font-size="11" text-anchor="middle" stroke="#111" stroke-width="0.2">*</text>
<text x="463.6" y="400.91" font-size="11" text-anchor="middle" stroke="#111" stroke-width="0.2">*</text>
<text x="397.4" y="424.8" font-size="9.4" text-anchor="middle" stroke="#111" stroke-width="0.226">3</text>
<text x="428" y="424.8" font-size="9.4" text-anchor="middle" stroke="#111" stroke-width="0.226">6</text>
<text x="457.4" y="424.8" font-size="9.4" text-anchor="middle" stroke="#111" stroke-width="0.226">12</text>
<text x="457.4" y="440.2" font-size="7.5" text-anchor="middle" stroke="#111" stroke-width="0.18">Age (months)</text>
<line x1="489.0" y1="389.775" x2="520" y2="389.775" stroke="#ababab" stroke-width="0.55"/>
<line x1="489.0" y1="367.35" x2="520" y2="367.35" stroke="#ababab" stroke-width="0.55"/>
<line x1="489.0" y1="344.925" x2="520" y2="344.925" stroke="#ababab" stroke-width="0.55"/>
<line x1="489.0" y1="322.5" x2="520" y2="322.5" stroke="#ababab" stroke-width="0.55"/>
<line x1="489.0" y1="322.5" x2="489.0" y2="412.2" stroke="#111" stroke-width="1.0"/>
<line x1="487.0" y1="412.2" x2="520" y2="412.2" stroke="#111" stroke-width="1.0"/>
<line x1="487.0" y1="412.2" x2="489.0" y2="412.2" stroke="#111" stroke-width="0.8"/>
<text x="487.2" y="414.9" font-size="8.0" text-anchor="end" stroke="#111" stroke-width="0.192">0</text>
<line x1="487.0" y1="389.775" x2="489.0" y2="389.775" stroke="#111" stroke-width="0.8"/>
<text x="487.2" y="392.47499999999997" font-size="8.0" text-anchor="end" stroke="#111" stroke-width="0.192">0.1</text>
<line x1="487.0" y1="367.35" x2="489.0" y2="367.35" stroke="#111" stroke-width="0.8"/>
<text x="487.2" y="370.05" font-size="8.0" text-anchor="end" stroke="#111" stroke-width="0.192">0.2</text>
<line x1="487.0" y1="344.925" x2="489.0" y2="344.925" stroke="#111" stroke-width="0.8"/>
<text x="487.2" y="347.625" font-size="8.0" text-anchor="end" stroke="#111" stroke-width="0.192">0.3</text>
<line x1="487.0" y1="322.5" x2="489.0" y2="322.5" stroke="#111" stroke-width="0.8"/>
<text x="487.2" y="325.2" font-size="8.0" text-anchor="end" stroke="#111" stroke-width="0.192">0.4</text>
<rect x="495.60" y="363.20" width="7.90" height="49.00" fill="#111"/>
<rect x="503.50" y="410.20" width="9.20" height="2.00" fill="#858585" stroke="#333" stroke-width="0.6"/>
<line x1="499.5" y1="363.2" x2="499.5" y2="343.4" stroke="#111" stroke-width="0.7"/>
<line x1="497.9" y1="343.4" x2="501.1" y2="343.4" stroke="#111" stroke-width="0.7"/>
<text x="508" y="411.59" font-size="13" text-anchor="middle" stroke="#111" stroke-width="0.2">*</text>
<text x="505.4" y="425.2" font-size="9.2" text-anchor="middle" stroke="#111" stroke-width="0.221">≥23</text>
</g>
</svg>
</body>
</html>
